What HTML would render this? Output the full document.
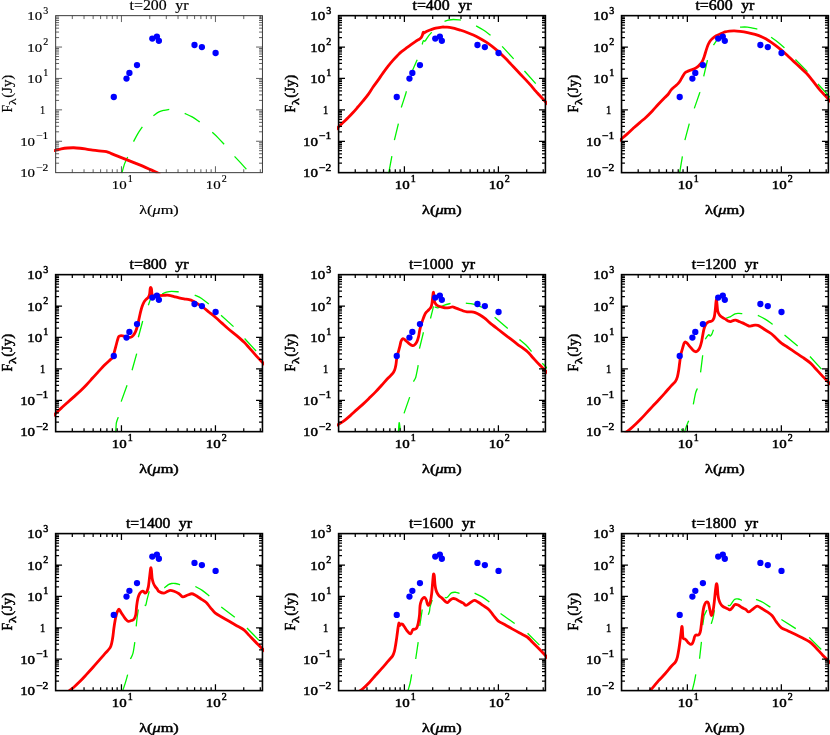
<!DOCTYPE html><html><head><meta charset="utf-8"><title>SED</title><style>html,body{margin:0;padding:0;background:#fff;}svg{display:block;will-change:transform}text{font-family:"Liberation Serif",serif}</style></head><body>
<svg width="830" height="735" viewBox="0 0 830 735">
<rect width="830" height="735" fill="#fff"/>
<clipPath id="c0"><rect x="54.05" y="15.35" width="210" height="157.8"/></clipPath><path d="M121.79 173.43C122.23 171.9 123.6 166.53 124.54 163.9C125.48 161.28 127.17 158.11 127.67 157.01M133.56 141.6C134.23 140.36 136.3 136.18 137.7 133.83C139.1 131.49 141.59 128.04 142.33 126.94M153.36 115.66C154.26 115.06 157.3 112.77 159 111.9C160.7 111.04 162.37 110.68 164.01 110.27C165.66 109.87 168.43 109.54 169.27 109.4M184.69 113.41C185.89 113.97 189.8 115.55 192.2 116.92C194.61 118.28 198.52 121.13 199.72 121.93M212.25 132.33C213.16 133.17 215.99 135.69 217.89 137.59C219.8 139.49 223.15 143.17 224.16 144.23M234.56 156.39C235.5 157.39 238.56 160.59 240.45 162.65C242.33 164.72 245.39 168.23 246.33 169.29" fill="none" stroke="#00f400" stroke-width="1.3" clip-path="url(#c0)"/><path d="M52.49 150.87C52.89 150.79 53.6 150.69 55 150.37C56.4 150.05 59.26 149.25 61.27 148.87C63.27 148.49 65.53 148.17 67.53 147.99C69.53 147.81 71.79 147.7 73.8 147.74C75.8 147.78 78.06 148.02 80.06 148.24C82.07 148.46 84.32 148.82 86.33 149.12C88.33 149.42 90.59 149.84 92.59 150.12C94.6 150.4 96.65 150.63 98.86 150.87C101.06 151.11 104.37 151.18 106.37 151.62C108.38 152.07 109.58 152.91 111.39 153.63C113.19 154.35 115.65 155.33 117.65 156.13C119.66 156.94 121.91 157.84 123.92 158.64C125.92 159.44 128.18 160.35 130.18 161.15C132.19 161.95 134.44 162.85 136.45 163.65C138.45 164.45 140.71 165.32 142.71 166.16C144.72 167 146.97 168.01 148.98 168.92C150.98 169.82 153.44 170.96 155.24 171.8C157.05 172.64 159.45 173.8 160.25 174.18" fill="none" stroke="#ff0000" stroke-width="2.8" stroke-linejoin="round" clip-path="url(#c0)"/><circle cx="113.8" cy="97" r="3.15" fill="#0000ff"/><circle cx="126.5" cy="78.6" r="3.15" fill="#0000ff"/><circle cx="129.4" cy="72.9" r="3.15" fill="#0000ff"/><circle cx="137" cy="65.1" r="3.15" fill="#0000ff"/><circle cx="152.3" cy="38.6" r="3.15" fill="#0000ff"/><circle cx="156.9" cy="36.6" r="3.15" fill="#0000ff"/><circle cx="158.9" cy="40.8" r="3.15" fill="#0000ff"/><circle cx="194.5" cy="45" r="3.15" fill="#0000ff"/><circle cx="201.9" cy="47.1" r="3.15" fill="#0000ff"/><circle cx="215.6" cy="53" r="3.15" fill="#0000ff"/><path d="M72.3 172.65v-3.4M72.3 15.65v3.4M84.04 172.65v-3.4M84.04 15.65v3.4M93.15 172.65v-3.4M93.15 15.65v3.4M100.6 172.65v-3.4M100.6 15.65v3.4M106.89 172.65v-3.4M106.89 15.65v3.4M112.34 172.65v-3.4M112.34 15.65v3.4M117.15 172.65v-3.4M117.15 15.65v3.4M121.45 172.65v-6.4M121.45 15.65v6.4M149.75 172.65v-3.4M149.75 15.65v3.4M166.3 172.65v-3.4M166.3 15.65v3.4M178.04 172.65v-3.4M178.04 15.65v3.4M187.15 172.65v-3.4M187.15 15.65v3.4M194.6 172.65v-3.4M194.6 15.65v3.4M200.89 172.65v-3.4M200.89 15.65v3.4M206.34 172.65v-3.4M206.34 15.65v3.4M211.15 172.65v-3.4M211.15 15.65v3.4M215.45 172.65v-6.4M215.45 15.65v6.4M243.75 172.65v-3.4M243.75 15.65v3.4M260.3 172.65v-3.4M260.3 15.65v3.4M55.65 163.2h3.4M262.45 163.2h-3.4M55.65 157.67h3.4M262.45 157.67h-3.4M55.65 153.75h3.4M262.45 153.75h-3.4M55.65 150.7h3.4M262.45 150.7h-3.4M55.65 148.22h3.4M262.45 148.22h-3.4M55.65 146.11h3.4M262.45 146.11h-3.4M55.65 144.29h3.4M262.45 144.29h-3.4M55.65 142.69h3.4M262.45 142.69h-3.4M55.65 141.25h6.4M262.45 141.25h-6.4M55.65 131.8h3.4M262.45 131.8h-3.4M55.65 126.27h3.4M262.45 126.27h-3.4M55.65 122.35h3.4M262.45 122.35h-3.4M55.65 119.3h3.4M262.45 119.3h-3.4M55.65 116.82h3.4M262.45 116.82h-3.4M55.65 114.71h3.4M262.45 114.71h-3.4M55.65 112.89h3.4M262.45 112.89h-3.4M55.65 111.29h3.4M262.45 111.29h-3.4M55.65 109.85h6.4M262.45 109.85h-6.4M55.65 100.4h3.4M262.45 100.4h-3.4M55.65 94.87h3.4M262.45 94.87h-3.4M55.65 90.95h3.4M262.45 90.95h-3.4M55.65 87.9h3.4M262.45 87.9h-3.4M55.65 85.42h3.4M262.45 85.42h-3.4M55.65 83.31h3.4M262.45 83.31h-3.4M55.65 81.49h3.4M262.45 81.49h-3.4M55.65 79.89h3.4M262.45 79.89h-3.4M55.65 78.45h6.4M262.45 78.45h-6.4M55.65 69h3.4M262.45 69h-3.4M55.65 63.47h3.4M262.45 63.47h-3.4M55.65 59.55h3.4M262.45 59.55h-3.4M55.65 56.5h3.4M262.45 56.5h-3.4M55.65 54.02h3.4M262.45 54.02h-3.4M55.65 51.91h3.4M262.45 51.91h-3.4M55.65 50.09h3.4M262.45 50.09h-3.4M55.65 48.49h3.4M262.45 48.49h-3.4M55.65 47.05h6.4M262.45 47.05h-6.4M55.65 37.6h3.4M262.45 37.6h-3.4M55.65 32.07h3.4M262.45 32.07h-3.4M55.65 28.15h3.4M262.45 28.15h-3.4M55.65 25.1h3.4M262.45 25.1h-3.4M55.65 22.62h3.4M262.45 22.62h-3.4M55.65 20.51h3.4M262.45 20.51h-3.4M55.65 18.69h3.4M262.45 18.69h-3.4M55.65 17.09h3.4M262.45 17.09h-3.4" stroke="#3a3a3a" stroke-width="0.8" fill="none"/><rect x="55.65" y="15.65" width="206.8" height="157" fill="none" stroke="#3a3a3a" stroke-width="1.0"/><text x="20.15" y="177.15" font-size="13.4" textLength="14.9" lengthAdjust="spacingAndGlyphs" fill="#000" stroke="#000" stroke-width="0.18">10</text><text x="36.15" y="170.65" font-size="9.8" textLength="12.2" lengthAdjust="spacingAndGlyphs" fill="#000" stroke="#000" stroke-width="0.18">−2</text><text x="20.15" y="145.75" font-size="13.4" textLength="14.9" lengthAdjust="spacingAndGlyphs" fill="#000" stroke="#000" stroke-width="0.18">10</text><text x="36.15" y="139.25" font-size="9.8" textLength="12.2" lengthAdjust="spacingAndGlyphs" fill="#000" stroke="#000" stroke-width="0.18">−1</text><text x="40.05" y="114.35" font-size="13.4" textLength="5.2" lengthAdjust="spacingAndGlyphs" fill="#000" stroke="#000" stroke-width="0.18">1</text><text x="27.35" y="82.95" font-size="13.4" textLength="14.9" lengthAdjust="spacingAndGlyphs" fill="#000" stroke="#000" stroke-width="0.18">10</text><text x="43.35" y="76.45" font-size="9.8" textLength="5" lengthAdjust="spacingAndGlyphs" fill="#000" stroke="#000" stroke-width="0.18">1</text><text x="27.35" y="51.55" font-size="13.4" textLength="14.9" lengthAdjust="spacingAndGlyphs" fill="#000" stroke="#000" stroke-width="0.18">10</text><text x="43.35" y="45.05" font-size="9.8" textLength="5" lengthAdjust="spacingAndGlyphs" fill="#000" stroke="#000" stroke-width="0.18">2</text><text x="27.35" y="20.15" font-size="13.4" textLength="14.9" lengthAdjust="spacingAndGlyphs" fill="#000" stroke="#000" stroke-width="0.18">10</text><text x="43.35" y="13.65" font-size="9.8" textLength="5" lengthAdjust="spacingAndGlyphs" fill="#000" stroke="#000" stroke-width="0.18">3</text><text x="111.85" y="188.65" font-size="13.4" textLength="14.9" lengthAdjust="spacingAndGlyphs" fill="#000" stroke="#000" stroke-width="0.18">10</text><text x="127.85" y="182.15" font-size="9.8" textLength="5" lengthAdjust="spacingAndGlyphs" fill="#000" stroke="#000" stroke-width="0.18">1</text><text x="205.85" y="188.65" font-size="13.4" textLength="14.9" lengthAdjust="spacingAndGlyphs" fill="#000" stroke="#000" stroke-width="0.18">10</text><text x="221.85" y="182.15" font-size="9.8" textLength="5" lengthAdjust="spacingAndGlyphs" fill="#000" stroke="#000" stroke-width="0.18">2</text><text x="129.55" y="9.75" font-size="14" textLength="37.2" lengthAdjust="spacingAndGlyphs" fill="#000" stroke="#000" stroke-width="0.18">t=200</text><text x="175.25" y="9.75" font-size="14" textLength="13.3" lengthAdjust="spacingAndGlyphs" fill="#000" stroke="#000" stroke-width="0.18">yr</text><text x="139.15" y="213.55" font-size="13.5" textLength="39.6" lengthAdjust="spacingAndGlyphs" fill="#000" stroke="#000" stroke-width="0.18">λ(<tspan font-style="italic">μ</tspan>m)</text><g transform="translate(11.85 93.75) rotate(-90)"><text x="-18.8" y="0" font-size="14.2" textLength="7.6" lengthAdjust="spacingAndGlyphs" fill="#000" stroke="#000" stroke-width="0.18">F</text><text x="-11.3" y="4.6" font-size="10.5" textLength="6.7" lengthAdjust="spacingAndGlyphs" fill="#000" stroke="#000" stroke-width="0.18">λ</text><text x="-4" y="0" font-size="14.2" textLength="23" lengthAdjust="spacingAndGlyphs" fill="#000" stroke="#000" stroke-width="0.18">(Jy)</text></g>
<clipPath id="c1"><rect x="337" y="15.35" width="210" height="157.8"/></clipPath><path d="M388.62 173.69 L391.88 156.02M394.39 140.11 L398.4 123.7M401.28 107.53C401.98 105.37 404.84 96.61 405.66 94C406.48 91.39 406.29 91.68 406.41 91.24M411.68 72.64C411.88 72.14 412.05 71.55 412.93 69.51C413.81 67.46 416.51 61.4 417.19 59.86M422.2 44.45C422.4 43.84 422.99 41.23 423.46 40.69C423.92 40.15 424.32 41.76 425.08 41.06C425.85 40.36 427.15 37.7 428.22 36.3C429.28 34.9 431.16 32.93 431.73 32.29M444.51 21.27C445.19 21.06 447.36 20.29 448.77 20.01C450.17 19.73 451.35 19.51 453.28 19.51C455.2 19.51 459.59 19.93 460.8 20.01M476.08 25.9C477.24 26.56 481.02 28.53 483.35 30.04C485.67 31.54 489.45 34.46 490.62 35.3M502.14 46.33 L513.67 58.86M524.45 71.01 L535.73 83.67" fill="none" stroke="#00f400" stroke-width="1.3" clip-path="url(#c1)"/><path d="M336.12 129.46C336.42 129.16 336.9 128.68 338 127.58C339.1 126.48 341.41 124.13 343.01 122.57C344.62 121 346.42 119.41 348.02 117.81C349.63 116.2 351.43 114.31 353.04 112.54C354.64 110.78 356.44 108.65 358.05 106.78C359.65 104.92 361.46 102.84 363.06 100.89C364.66 98.95 366.47 96.84 368.07 94.63C369.68 92.41 371.48 89.36 373.08 87.05C374.69 84.73 376.49 82.42 378.1 80.16C379.7 77.89 381.5 75.13 383.11 72.89C384.71 70.64 386.52 68.17 388.12 66.12C389.72 64.08 391.53 61.91 393.13 60.11C394.74 58.3 396.94 56.09 398.14 54.85C399.35 53.6 399.45 53.34 400.65 52.34C401.85 51.34 404.06 49.78 405.66 48.58C407.27 47.38 409.07 45.98 410.67 44.82C412.28 43.66 414.28 42.24 415.69 41.31C417.09 40.39 418.54 39.7 419.45 39.06C420.35 38.42 420.84 37.95 421.33 37.3C421.81 36.66 422.15 35.85 422.45 35.05C422.75 34.25 422.96 32.59 423.2 32.29C423.45 31.99 423.72 33.13 423.96 33.17C424.2 33.21 424.23 32.84 424.71 32.54C425.19 32.24 426 31.73 426.96 31.29C427.93 30.85 429.32 30.29 430.72 29.79C432.13 29.28 433.93 28.6 435.73 28.16C437.54 27.72 440.4 27.19 442 27.03C443.6 26.87 444.56 27.11 445.76 27.15C446.96 27.19 448.11 27.1 449.52 27.28C450.92 27.46 452.73 27.8 454.53 28.28C456.33 28.76 458.79 29.61 460.8 30.29C462.8 30.97 465.06 31.78 467.06 32.54C469.07 33.3 471.32 34.15 473.33 35.05C475.33 35.95 477.59 37.08 479.59 38.18C481.6 39.28 483.85 40.64 485.86 41.94C487.86 43.24 490.12 44.78 492.12 46.33C494.13 47.87 496.38 49.78 498.39 51.59C500.39 53.39 502.65 55.6 504.65 57.6C506.66 59.61 508.91 62.01 510.92 64.12C512.92 66.22 515.18 68.63 517.18 70.76C519.19 72.88 521.44 75.25 523.45 77.4C525.45 79.55 527.71 81.92 529.71 84.17C531.72 86.41 534.57 89.83 535.98 91.43C537.38 93.04 536.88 92.47 538.48 94.19C540.09 95.91 544.4 100.45 546 102.21C547.6 103.97 548.11 104.74 548.51 105.22" fill="none" stroke="#ff0000" stroke-width="2.8" stroke-linejoin="round" clip-path="url(#c1)"/><circle cx="396.75" cy="97" r="3.15" fill="#0000ff"/><circle cx="409.45" cy="78.6" r="3.15" fill="#0000ff"/><circle cx="412.35" cy="72.9" r="3.15" fill="#0000ff"/><circle cx="419.95" cy="65.1" r="3.15" fill="#0000ff"/><circle cx="435.25" cy="38.6" r="3.15" fill="#0000ff"/><circle cx="439.85" cy="36.6" r="3.15" fill="#0000ff"/><circle cx="441.85" cy="40.8" r="3.15" fill="#0000ff"/><circle cx="477.45" cy="45" r="3.15" fill="#0000ff"/><circle cx="484.85" cy="47.1" r="3.15" fill="#0000ff"/><circle cx="498.55" cy="53" r="3.15" fill="#0000ff"/><path d="M355.25 172.65v-3.4M355.25 15.65v3.4M366.99 172.65v-3.4M366.99 15.65v3.4M376.1 172.65v-3.4M376.1 15.65v3.4M383.55 172.65v-3.4M383.55 15.65v3.4M389.84 172.65v-3.4M389.84 15.65v3.4M395.29 172.65v-3.4M395.29 15.65v3.4M400.1 172.65v-3.4M400.1 15.65v3.4M404.4 172.65v-6.4M404.4 15.65v6.4M432.7 172.65v-3.4M432.7 15.65v3.4M449.25 172.65v-3.4M449.25 15.65v3.4M460.99 172.65v-3.4M460.99 15.65v3.4M470.1 172.65v-3.4M470.1 15.65v3.4M477.55 172.65v-3.4M477.55 15.65v3.4M483.84 172.65v-3.4M483.84 15.65v3.4M489.29 172.65v-3.4M489.29 15.65v3.4M494.1 172.65v-3.4M494.1 15.65v3.4M498.4 172.65v-6.4M498.4 15.65v6.4M526.7 172.65v-3.4M526.7 15.65v3.4M543.25 172.65v-3.4M543.25 15.65v3.4M338.6 163.2h3.4M545.4 163.2h-3.4M338.6 157.67h3.4M545.4 157.67h-3.4M338.6 153.75h3.4M545.4 153.75h-3.4M338.6 150.7h3.4M545.4 150.7h-3.4M338.6 148.22h3.4M545.4 148.22h-3.4M338.6 146.11h3.4M545.4 146.11h-3.4M338.6 144.29h3.4M545.4 144.29h-3.4M338.6 142.69h3.4M545.4 142.69h-3.4M338.6 141.25h6.4M545.4 141.25h-6.4M338.6 131.8h3.4M545.4 131.8h-3.4M338.6 126.27h3.4M545.4 126.27h-3.4M338.6 122.35h3.4M545.4 122.35h-3.4M338.6 119.3h3.4M545.4 119.3h-3.4M338.6 116.82h3.4M545.4 116.82h-3.4M338.6 114.71h3.4M545.4 114.71h-3.4M338.6 112.89h3.4M545.4 112.89h-3.4M338.6 111.29h3.4M545.4 111.29h-3.4M338.6 109.85h6.4M545.4 109.85h-6.4M338.6 100.4h3.4M545.4 100.4h-3.4M338.6 94.87h3.4M545.4 94.87h-3.4M338.6 90.95h3.4M545.4 90.95h-3.4M338.6 87.9h3.4M545.4 87.9h-3.4M338.6 85.42h3.4M545.4 85.42h-3.4M338.6 83.31h3.4M545.4 83.31h-3.4M338.6 81.49h3.4M545.4 81.49h-3.4M338.6 79.89h3.4M545.4 79.89h-3.4M338.6 78.45h6.4M545.4 78.45h-6.4M338.6 69h3.4M545.4 69h-3.4M338.6 63.47h3.4M545.4 63.47h-3.4M338.6 59.55h3.4M545.4 59.55h-3.4M338.6 56.5h3.4M545.4 56.5h-3.4M338.6 54.02h3.4M545.4 54.02h-3.4M338.6 51.91h3.4M545.4 51.91h-3.4M338.6 50.09h3.4M545.4 50.09h-3.4M338.6 48.49h3.4M545.4 48.49h-3.4M338.6 47.05h6.4M545.4 47.05h-6.4M338.6 37.6h3.4M545.4 37.6h-3.4M338.6 32.07h3.4M545.4 32.07h-3.4M338.6 28.15h3.4M545.4 28.15h-3.4M338.6 25.1h3.4M545.4 25.1h-3.4M338.6 22.62h3.4M545.4 22.62h-3.4M338.6 20.51h3.4M545.4 20.51h-3.4M338.6 18.69h3.4M545.4 18.69h-3.4M338.6 17.09h3.4M545.4 17.09h-3.4" stroke="#000" stroke-width="1.25" fill="none"/><rect x="338.6" y="15.65" width="206.8" height="157" fill="none" stroke="#000" stroke-width="1.6"/><text x="303.1" y="177.15" font-size="13.4" textLength="14.9" lengthAdjust="spacingAndGlyphs" fill="#000" stroke="#000" stroke-width="0.5">10</text><text x="319.1" y="170.65" font-size="9.8" textLength="12.2" lengthAdjust="spacingAndGlyphs" fill="#000" stroke="#000" stroke-width="0.5">−2</text><text x="303.1" y="145.75" font-size="13.4" textLength="14.9" lengthAdjust="spacingAndGlyphs" fill="#000" stroke="#000" stroke-width="0.5">10</text><text x="319.1" y="139.25" font-size="9.8" textLength="12.2" lengthAdjust="spacingAndGlyphs" fill="#000" stroke="#000" stroke-width="0.5">−1</text><text x="323" y="114.35" font-size="13.4" textLength="5.2" lengthAdjust="spacingAndGlyphs" fill="#000" stroke="#000" stroke-width="0.5">1</text><text x="310.3" y="82.95" font-size="13.4" textLength="14.9" lengthAdjust="spacingAndGlyphs" fill="#000" stroke="#000" stroke-width="0.5">10</text><text x="326.3" y="76.45" font-size="9.8" textLength="5" lengthAdjust="spacingAndGlyphs" fill="#000" stroke="#000" stroke-width="0.5">1</text><text x="310.3" y="51.55" font-size="13.4" textLength="14.9" lengthAdjust="spacingAndGlyphs" fill="#000" stroke="#000" stroke-width="0.5">10</text><text x="326.3" y="45.05" font-size="9.8" textLength="5" lengthAdjust="spacingAndGlyphs" fill="#000" stroke="#000" stroke-width="0.5">2</text><text x="310.3" y="20.15" font-size="13.4" textLength="14.9" lengthAdjust="spacingAndGlyphs" fill="#000" stroke="#000" stroke-width="0.5">10</text><text x="326.3" y="13.65" font-size="9.8" textLength="5" lengthAdjust="spacingAndGlyphs" fill="#000" stroke="#000" stroke-width="0.5">3</text><text x="394.8" y="188.65" font-size="13.4" textLength="14.9" lengthAdjust="spacingAndGlyphs" fill="#000" stroke="#000" stroke-width="0.5">10</text><text x="410.8" y="182.15" font-size="9.8" textLength="5" lengthAdjust="spacingAndGlyphs" fill="#000" stroke="#000" stroke-width="0.5">1</text><text x="488.8" y="188.65" font-size="13.4" textLength="14.9" lengthAdjust="spacingAndGlyphs" fill="#000" stroke="#000" stroke-width="0.5">10</text><text x="504.8" y="182.15" font-size="9.8" textLength="5" lengthAdjust="spacingAndGlyphs" fill="#000" stroke="#000" stroke-width="0.5">2</text><text x="412.5" y="9.75" font-size="14" textLength="37.2" lengthAdjust="spacingAndGlyphs" fill="#000" stroke="#000" stroke-width="0.5">t=400</text><text x="458.2" y="9.75" font-size="14" textLength="13.3" lengthAdjust="spacingAndGlyphs" fill="#000" stroke="#000" stroke-width="0.5">yr</text><text x="422.1" y="213.55" font-size="13.5" textLength="39.6" lengthAdjust="spacingAndGlyphs" fill="#000" stroke="#000" stroke-width="0.5">λ(<tspan font-style="italic">μ</tspan>m)</text><g transform="translate(294.8 93.75) rotate(-90)"><text x="-18.8" y="0" font-size="14.2" textLength="7.6" lengthAdjust="spacingAndGlyphs" fill="#000" stroke="#000" stroke-width="0.5">F</text><text x="-11.3" y="4.6" font-size="10.5" textLength="6.7" lengthAdjust="spacingAndGlyphs" fill="#000" stroke="#000" stroke-width="0.5">λ</text><text x="-4" y="0" font-size="14.2" textLength="23" lengthAdjust="spacingAndGlyphs" fill="#000" stroke="#000" stroke-width="0.5">(Jy)</text></g>
<clipPath id="c2"><rect x="619.95" y="15.35" width="210" height="157.8"/></clipPath><path d="M679.52 173.69 L682.4 156.27M684.9 140.11 L689.29 123.7M694.3 108.41C695.1 106.1 698.41 96.61 699.31 94C700.22 91.39 699.84 92.42 699.94 92.12M703.7 76.4 L707.46 60.11M713.47 45.07 L716.86 40.06M740.04 27.15C741.24 27.15 744.79 26.83 747.55 27.15C750.32 27.47 755.76 28.84 757.33 29.16M771.11 37.3C772.15 38.05 775.48 40.26 777.63 41.94C779.77 43.62 783.42 46.89 784.52 47.83M795.42 59.48 L807.45 71.64M817.97 84.06 L830.25 97.59" fill="none" stroke="#00f400" stroke-width="1.3" clip-path="url(#c2)"/><path d="M619.12 140.99C619.42 140.73 619.7 140.5 621 139.36C622.3 138.22 625.26 135.65 627.27 133.85C629.27 132.04 631.53 129.89 633.53 128.08C635.53 126.28 637.79 124.31 639.8 122.57C641.8 120.82 644.06 119.05 646.06 117.18C648.07 115.32 650.32 113.02 652.33 110.92C654.33 108.81 656.59 106.17 658.59 104.02C660.6 101.88 663.29 99.11 664.86 97.51C666.42 95.9 667.36 95.21 668.36 94C669.37 92.79 670.08 91.14 671.12 89.93C672.16 88.72 673.78 87.42 674.88 86.42C675.98 85.42 677.11 84.67 678.01 83.67C678.91 82.66 679.72 81.42 680.52 80.16C681.32 78.89 682.32 76.93 683.02 75.77C683.73 74.61 684.3 73.55 684.9 72.89C685.51 72.23 685.98 72.04 686.78 71.64C687.59 71.24 688.81 70.78 689.92 70.38C691.02 69.98 692.57 69.61 693.67 69.13C694.78 68.65 695.8 68.12 696.81 67.38C697.81 66.63 699.04 65.5 699.94 64.49C700.84 63.49 701.74 62.41 702.45 61.11C703.15 59.81 703.72 58.11 704.33 56.35C704.93 54.59 705.6 51.93 706.2 50.08C706.81 48.24 707.48 46.23 708.08 44.82C708.69 43.42 709.26 42.32 709.96 41.31C710.67 40.31 711.47 39.46 712.47 38.56C713.47 37.65 714.83 36.48 716.23 35.67C717.63 34.87 719.84 34.15 721.24 33.54C722.64 32.94 723.7 32.32 725 31.92C726.3 31.51 727.88 31.22 729.39 31.04C730.89 30.86 732.69 30.75 734.4 30.79C736.1 30.83 737.93 31.01 740.04 31.29C742.14 31.57 745.15 32.04 747.55 32.54C749.96 33.04 752.67 33.66 755.07 34.42C757.48 35.18 760.39 36.3 762.59 37.3C764.8 38.31 766.85 39.44 768.86 40.69C770.86 41.93 773.12 43.57 775.12 45.07C777.13 46.58 779.38 48.38 781.39 50.08C783.39 51.79 785.65 53.88 787.65 55.72C789.66 57.57 791.91 59.75 793.92 61.61C795.92 63.48 798.18 65.51 800.18 67.38C802.19 69.24 804.84 71.64 806.45 73.27C808.05 74.89 808.2 75.05 810.2 77.54C812.21 80.03 815.97 85.25 818.98 88.82C821.98 92.39 827.1 97.74 829 99.85C830.9 101.95 830.58 101.64 830.88 101.98" fill="none" stroke="#ff0000" stroke-width="2.8" stroke-linejoin="round" clip-path="url(#c2)"/><circle cx="679.7" cy="97" r="3.15" fill="#0000ff"/><circle cx="692.4" cy="78.6" r="3.15" fill="#0000ff"/><circle cx="695.3" cy="72.9" r="3.15" fill="#0000ff"/><circle cx="702.9" cy="65.1" r="3.15" fill="#0000ff"/><circle cx="718.2" cy="38.6" r="3.15" fill="#0000ff"/><circle cx="722.8" cy="36.6" r="3.15" fill="#0000ff"/><circle cx="724.8" cy="40.8" r="3.15" fill="#0000ff"/><circle cx="760.4" cy="45" r="3.15" fill="#0000ff"/><circle cx="767.8" cy="47.1" r="3.15" fill="#0000ff"/><circle cx="781.5" cy="53" r="3.15" fill="#0000ff"/><path d="M638.2 172.65v-3.4M638.2 15.65v3.4M649.94 172.65v-3.4M649.94 15.65v3.4M659.05 172.65v-3.4M659.05 15.65v3.4M666.5 172.65v-3.4M666.5 15.65v3.4M672.79 172.65v-3.4M672.79 15.65v3.4M678.24 172.65v-3.4M678.24 15.65v3.4M683.05 172.65v-3.4M683.05 15.65v3.4M687.35 172.65v-6.4M687.35 15.65v6.4M715.65 172.65v-3.4M715.65 15.65v3.4M732.2 172.65v-3.4M732.2 15.65v3.4M743.94 172.65v-3.4M743.94 15.65v3.4M753.05 172.65v-3.4M753.05 15.65v3.4M760.5 172.65v-3.4M760.5 15.65v3.4M766.79 172.65v-3.4M766.79 15.65v3.4M772.24 172.65v-3.4M772.24 15.65v3.4M777.05 172.65v-3.4M777.05 15.65v3.4M781.35 172.65v-6.4M781.35 15.65v6.4M809.65 172.65v-3.4M809.65 15.65v3.4M826.2 172.65v-3.4M826.2 15.65v3.4M621.55 163.2h3.4M828.35 163.2h-3.4M621.55 157.67h3.4M828.35 157.67h-3.4M621.55 153.75h3.4M828.35 153.75h-3.4M621.55 150.7h3.4M828.35 150.7h-3.4M621.55 148.22h3.4M828.35 148.22h-3.4M621.55 146.11h3.4M828.35 146.11h-3.4M621.55 144.29h3.4M828.35 144.29h-3.4M621.55 142.69h3.4M828.35 142.69h-3.4M621.55 141.25h6.4M828.35 141.25h-6.4M621.55 131.8h3.4M828.35 131.8h-3.4M621.55 126.27h3.4M828.35 126.27h-3.4M621.55 122.35h3.4M828.35 122.35h-3.4M621.55 119.3h3.4M828.35 119.3h-3.4M621.55 116.82h3.4M828.35 116.82h-3.4M621.55 114.71h3.4M828.35 114.71h-3.4M621.55 112.89h3.4M828.35 112.89h-3.4M621.55 111.29h3.4M828.35 111.29h-3.4M621.55 109.85h6.4M828.35 109.85h-6.4M621.55 100.4h3.4M828.35 100.4h-3.4M621.55 94.87h3.4M828.35 94.87h-3.4M621.55 90.95h3.4M828.35 90.95h-3.4M621.55 87.9h3.4M828.35 87.9h-3.4M621.55 85.42h3.4M828.35 85.42h-3.4M621.55 83.31h3.4M828.35 83.31h-3.4M621.55 81.49h3.4M828.35 81.49h-3.4M621.55 79.89h3.4M828.35 79.89h-3.4M621.55 78.45h6.4M828.35 78.45h-6.4M621.55 69h3.4M828.35 69h-3.4M621.55 63.47h3.4M828.35 63.47h-3.4M621.55 59.55h3.4M828.35 59.55h-3.4M621.55 56.5h3.4M828.35 56.5h-3.4M621.55 54.02h3.4M828.35 54.02h-3.4M621.55 51.91h3.4M828.35 51.91h-3.4M621.55 50.09h3.4M828.35 50.09h-3.4M621.55 48.49h3.4M828.35 48.49h-3.4M621.55 47.05h6.4M828.35 47.05h-6.4M621.55 37.6h3.4M828.35 37.6h-3.4M621.55 32.07h3.4M828.35 32.07h-3.4M621.55 28.15h3.4M828.35 28.15h-3.4M621.55 25.1h3.4M828.35 25.1h-3.4M621.55 22.62h3.4M828.35 22.62h-3.4M621.55 20.51h3.4M828.35 20.51h-3.4M621.55 18.69h3.4M828.35 18.69h-3.4M621.55 17.09h3.4M828.35 17.09h-3.4" stroke="#000" stroke-width="1.25" fill="none"/><rect x="621.55" y="15.65" width="206.8" height="157" fill="none" stroke="#000" stroke-width="1.6"/><text x="586.05" y="177.15" font-size="13.4" textLength="14.9" lengthAdjust="spacingAndGlyphs" fill="#000" stroke="#000" stroke-width="0.5">10</text><text x="602.05" y="170.65" font-size="9.8" textLength="12.2" lengthAdjust="spacingAndGlyphs" fill="#000" stroke="#000" stroke-width="0.5">−2</text><text x="586.05" y="145.75" font-size="13.4" textLength="14.9" lengthAdjust="spacingAndGlyphs" fill="#000" stroke="#000" stroke-width="0.5">10</text><text x="602.05" y="139.25" font-size="9.8" textLength="12.2" lengthAdjust="spacingAndGlyphs" fill="#000" stroke="#000" stroke-width="0.5">−1</text><text x="605.95" y="114.35" font-size="13.4" textLength="5.2" lengthAdjust="spacingAndGlyphs" fill="#000" stroke="#000" stroke-width="0.5">1</text><text x="593.25" y="82.95" font-size="13.4" textLength="14.9" lengthAdjust="spacingAndGlyphs" fill="#000" stroke="#000" stroke-width="0.5">10</text><text x="609.25" y="76.45" font-size="9.8" textLength="5" lengthAdjust="spacingAndGlyphs" fill="#000" stroke="#000" stroke-width="0.5">1</text><text x="593.25" y="51.55" font-size="13.4" textLength="14.9" lengthAdjust="spacingAndGlyphs" fill="#000" stroke="#000" stroke-width="0.5">10</text><text x="609.25" y="45.05" font-size="9.8" textLength="5" lengthAdjust="spacingAndGlyphs" fill="#000" stroke="#000" stroke-width="0.5">2</text><text x="593.25" y="20.15" font-size="13.4" textLength="14.9" lengthAdjust="spacingAndGlyphs" fill="#000" stroke="#000" stroke-width="0.5">10</text><text x="609.25" y="13.65" font-size="9.8" textLength="5" lengthAdjust="spacingAndGlyphs" fill="#000" stroke="#000" stroke-width="0.5">3</text><text x="677.75" y="188.65" font-size="13.4" textLength="14.9" lengthAdjust="spacingAndGlyphs" fill="#000" stroke="#000" stroke-width="0.5">10</text><text x="693.75" y="182.15" font-size="9.8" textLength="5" lengthAdjust="spacingAndGlyphs" fill="#000" stroke="#000" stroke-width="0.5">1</text><text x="771.75" y="188.65" font-size="13.4" textLength="14.9" lengthAdjust="spacingAndGlyphs" fill="#000" stroke="#000" stroke-width="0.5">10</text><text x="787.75" y="182.15" font-size="9.8" textLength="5" lengthAdjust="spacingAndGlyphs" fill="#000" stroke="#000" stroke-width="0.5">2</text><text x="695.45" y="9.75" font-size="14" textLength="37.2" lengthAdjust="spacingAndGlyphs" fill="#000" stroke="#000" stroke-width="0.5">t=600</text><text x="741.15" y="9.75" font-size="14" textLength="13.3" lengthAdjust="spacingAndGlyphs" fill="#000" stroke="#000" stroke-width="0.5">yr</text><text x="705.05" y="213.55" font-size="13.5" textLength="39.6" lengthAdjust="spacingAndGlyphs" fill="#000" stroke="#000" stroke-width="0.5">λ(<tspan font-style="italic">μ</tspan>m)</text><g transform="translate(577.75 93.75) rotate(-90)"><text x="-18.8" y="0" font-size="14.2" textLength="7.6" lengthAdjust="spacingAndGlyphs" fill="#000" stroke="#000" stroke-width="0.5">F</text><text x="-11.3" y="4.6" font-size="10.5" textLength="6.7" lengthAdjust="spacingAndGlyphs" fill="#000" stroke="#000" stroke-width="0.5">λ</text><text x="-4" y="0" font-size="14.2" textLength="23" lengthAdjust="spacingAndGlyphs" fill="#000" stroke="#000" stroke-width="0.5">(Jy)</text></g>
<clipPath id="c3"><rect x="54.05" y="274.35" width="210" height="157.8"/></clipPath><path d="M115.65 432.69C115.73 431.47 116.01 426.71 116.15 425.05C116.29 423.38 116.18 423.55 116.52 422.29C116.86 421.03 118 417.98 118.28 417.15M121.16 401.62 L127.05 385.33M132.06 370.29 L136.7 353.63M138.33 337.28 L142.71 320.99M148.35 305.33 L150.23 299.69M162.13 294.05C162.83 293.75 165.01 292.61 166.52 292.17C168.02 291.73 169.57 291.33 171.53 291.29C173.49 291.25 177.63 291.82 178.8 291.92M194.71 295.05C195.81 295.59 199.34 296.99 201.6 298.43C203.87 299.88 207.71 303.17 208.87 304.07M221.02 315.35 L233.55 326.63M244.58 338.54 L256.11 350.95" fill="none" stroke="#00f400" stroke-width="1.3" clip-path="url(#c3)"/><path d="M53.12 415.9C53.42 415.62 53.7 415.39 55 414.15C56.3 412.9 59.26 410 61.27 408.13C63.27 406.27 65.53 404.3 67.53 402.49C69.53 400.69 71.79 398.66 73.8 396.86C75.8 395.05 78.06 393.12 80.06 391.22C82.07 389.31 84.32 387.06 86.33 384.95C88.33 382.85 90.59 380.27 92.59 378.06C94.6 375.85 96.85 373.33 98.86 371.17C100.86 369 103.32 366.33 105.12 364.53C106.92 362.72 108.89 361.03 110.13 359.89C111.38 358.75 112.29 358.39 112.89 357.39C113.49 356.38 113.43 355.34 113.89 353.63C114.35 351.91 115.21 348.79 115.77 346.67C116.33 344.56 116.94 342.01 117.4 340.41C117.86 338.81 118.21 337.39 118.65 336.65C119.09 335.91 119.31 335.87 120.16 335.77C121 335.67 122.71 335.78 123.92 336.02C125.12 336.26 126.57 337.08 127.67 337.28C128.78 337.48 129.91 337.58 130.81 337.28C131.71 336.98 132.57 336.26 133.31 335.4C134.06 334.54 134.84 333.19 135.44 331.89C136.04 330.59 136.55 329.1 137.07 327.25C137.59 325.41 138.2 322.57 138.7 320.36C139.2 318.16 139.7 315.57 140.2 313.47C140.71 311.36 141.27 308.95 141.83 307.2C142.4 305.46 143.07 303.77 143.71 302.57C144.35 301.37 145.1 300.55 145.84 299.69C146.59 298.82 147.75 298.08 148.35 297.18C148.95 296.28 149.3 295.45 149.6 294.05C149.9 292.64 150.03 289.45 150.23 288.41C150.43 287.37 150.65 287.43 150.86 287.53C151.06 287.63 151.28 287.89 151.48 289.04C151.68 290.18 151.71 293.57 152.11 294.67C152.51 295.78 152.89 295.79 153.99 295.93C155.09 296.07 157.4 295.65 159 295.55C160.6 295.45 162.41 295.34 164.01 295.3C165.62 295.26 167.42 295.1 169.02 295.3C170.63 295.5 172.43 296.15 174.04 296.55C175.64 296.96 177.44 297.45 179.05 297.81C180.65 298.17 182.46 298.51 184.06 298.81C185.66 299.11 187.67 299.35 189.07 299.69C190.48 300.03 191.63 300.4 192.83 300.94C194.03 301.48 194.99 302.07 196.59 303.07C198.19 304.07 200.85 305.74 202.86 307.2C204.86 308.67 207.12 310.61 209.12 312.22C211.13 313.82 213.38 315.52 215.39 317.23C217.39 318.93 219.65 321.06 221.65 322.87C223.66 324.67 225.51 326.46 227.92 328.51C230.32 330.55 234.08 333.46 236.69 335.66C239.29 337.87 242.2 340.36 244.2 342.3C246.21 344.25 247.21 345.57 249.22 347.82C251.22 350.06 254.53 353.93 256.73 356.34C258.94 358.74 261.7 361.49 263 362.85C264.3 364.22 264.58 364.54 264.88 364.86" fill="none" stroke="#ff0000" stroke-width="2.8" stroke-linejoin="round" clip-path="url(#c3)"/><circle cx="113.8" cy="356" r="3.15" fill="#0000ff"/><circle cx="126.5" cy="337.6" r="3.15" fill="#0000ff"/><circle cx="129.4" cy="331.9" r="3.15" fill="#0000ff"/><circle cx="137" cy="324.1" r="3.15" fill="#0000ff"/><circle cx="152.3" cy="297.6" r="3.15" fill="#0000ff"/><circle cx="156.9" cy="295.6" r="3.15" fill="#0000ff"/><circle cx="158.9" cy="299.8" r="3.15" fill="#0000ff"/><circle cx="194.5" cy="304" r="3.15" fill="#0000ff"/><circle cx="201.9" cy="306.1" r="3.15" fill="#0000ff"/><circle cx="215.6" cy="312" r="3.15" fill="#0000ff"/><path d="M72.3 431.65v-3.4M72.3 274.65v3.4M84.04 431.65v-3.4M84.04 274.65v3.4M93.15 431.65v-3.4M93.15 274.65v3.4M100.6 431.65v-3.4M100.6 274.65v3.4M106.89 431.65v-3.4M106.89 274.65v3.4M112.34 431.65v-3.4M112.34 274.65v3.4M117.15 431.65v-3.4M117.15 274.65v3.4M121.45 431.65v-6.4M121.45 274.65v6.4M149.75 431.65v-3.4M149.75 274.65v3.4M166.3 431.65v-3.4M166.3 274.65v3.4M178.04 431.65v-3.4M178.04 274.65v3.4M187.15 431.65v-3.4M187.15 274.65v3.4M194.6 431.65v-3.4M194.6 274.65v3.4M200.89 431.65v-3.4M200.89 274.65v3.4M206.34 431.65v-3.4M206.34 274.65v3.4M211.15 431.65v-3.4M211.15 274.65v3.4M215.45 431.65v-6.4M215.45 274.65v6.4M243.75 431.65v-3.4M243.75 274.65v3.4M260.3 431.65v-3.4M260.3 274.65v3.4M55.65 422.2h3.4M262.45 422.2h-3.4M55.65 416.67h3.4M262.45 416.67h-3.4M55.65 412.75h3.4M262.45 412.75h-3.4M55.65 409.7h3.4M262.45 409.7h-3.4M55.65 407.22h3.4M262.45 407.22h-3.4M55.65 405.11h3.4M262.45 405.11h-3.4M55.65 403.29h3.4M262.45 403.29h-3.4M55.65 401.69h3.4M262.45 401.69h-3.4M55.65 400.25h6.4M262.45 400.25h-6.4M55.65 390.8h3.4M262.45 390.8h-3.4M55.65 385.27h3.4M262.45 385.27h-3.4M55.65 381.35h3.4M262.45 381.35h-3.4M55.65 378.3h3.4M262.45 378.3h-3.4M55.65 375.82h3.4M262.45 375.82h-3.4M55.65 373.71h3.4M262.45 373.71h-3.4M55.65 371.89h3.4M262.45 371.89h-3.4M55.65 370.29h3.4M262.45 370.29h-3.4M55.65 368.85h6.4M262.45 368.85h-6.4M55.65 359.4h3.4M262.45 359.4h-3.4M55.65 353.87h3.4M262.45 353.87h-3.4M55.65 349.95h3.4M262.45 349.95h-3.4M55.65 346.9h3.4M262.45 346.9h-3.4M55.65 344.42h3.4M262.45 344.42h-3.4M55.65 342.31h3.4M262.45 342.31h-3.4M55.65 340.49h3.4M262.45 340.49h-3.4M55.65 338.89h3.4M262.45 338.89h-3.4M55.65 337.45h6.4M262.45 337.45h-6.4M55.65 328h3.4M262.45 328h-3.4M55.65 322.47h3.4M262.45 322.47h-3.4M55.65 318.55h3.4M262.45 318.55h-3.4M55.65 315.5h3.4M262.45 315.5h-3.4M55.65 313.02h3.4M262.45 313.02h-3.4M55.65 310.91h3.4M262.45 310.91h-3.4M55.65 309.09h3.4M262.45 309.09h-3.4M55.65 307.49h3.4M262.45 307.49h-3.4M55.65 306.05h6.4M262.45 306.05h-6.4M55.65 296.6h3.4M262.45 296.6h-3.4M55.65 291.07h3.4M262.45 291.07h-3.4M55.65 287.15h3.4M262.45 287.15h-3.4M55.65 284.1h3.4M262.45 284.1h-3.4M55.65 281.62h3.4M262.45 281.62h-3.4M55.65 279.51h3.4M262.45 279.51h-3.4M55.65 277.69h3.4M262.45 277.69h-3.4M55.65 276.09h3.4M262.45 276.09h-3.4" stroke="#000" stroke-width="1.25" fill="none"/><rect x="55.65" y="274.65" width="206.8" height="157" fill="none" stroke="#000" stroke-width="1.6"/><text x="20.15" y="436.15" font-size="13.4" textLength="14.9" lengthAdjust="spacingAndGlyphs" fill="#000" stroke="#000" stroke-width="0.5">10</text><text x="36.15" y="429.65" font-size="9.8" textLength="12.2" lengthAdjust="spacingAndGlyphs" fill="#000" stroke="#000" stroke-width="0.5">−2</text><text x="20.15" y="404.75" font-size="13.4" textLength="14.9" lengthAdjust="spacingAndGlyphs" fill="#000" stroke="#000" stroke-width="0.5">10</text><text x="36.15" y="398.25" font-size="9.8" textLength="12.2" lengthAdjust="spacingAndGlyphs" fill="#000" stroke="#000" stroke-width="0.5">−1</text><text x="40.05" y="373.35" font-size="13.4" textLength="5.2" lengthAdjust="spacingAndGlyphs" fill="#000" stroke="#000" stroke-width="0.5">1</text><text x="27.35" y="341.95" font-size="13.4" textLength="14.9" lengthAdjust="spacingAndGlyphs" fill="#000" stroke="#000" stroke-width="0.5">10</text><text x="43.35" y="335.45" font-size="9.8" textLength="5" lengthAdjust="spacingAndGlyphs" fill="#000" stroke="#000" stroke-width="0.5">1</text><text x="27.35" y="310.55" font-size="13.4" textLength="14.9" lengthAdjust="spacingAndGlyphs" fill="#000" stroke="#000" stroke-width="0.5">10</text><text x="43.35" y="304.05" font-size="9.8" textLength="5" lengthAdjust="spacingAndGlyphs" fill="#000" stroke="#000" stroke-width="0.5">2</text><text x="27.35" y="279.15" font-size="13.4" textLength="14.9" lengthAdjust="spacingAndGlyphs" fill="#000" stroke="#000" stroke-width="0.5">10</text><text x="43.35" y="272.65" font-size="9.8" textLength="5" lengthAdjust="spacingAndGlyphs" fill="#000" stroke="#000" stroke-width="0.5">3</text><text x="111.85" y="447.65" font-size="13.4" textLength="14.9" lengthAdjust="spacingAndGlyphs" fill="#000" stroke="#000" stroke-width="0.5">10</text><text x="127.85" y="441.15" font-size="9.8" textLength="5" lengthAdjust="spacingAndGlyphs" fill="#000" stroke="#000" stroke-width="0.5">1</text><text x="205.85" y="447.65" font-size="13.4" textLength="14.9" lengthAdjust="spacingAndGlyphs" fill="#000" stroke="#000" stroke-width="0.5">10</text><text x="221.85" y="441.15" font-size="9.8" textLength="5" lengthAdjust="spacingAndGlyphs" fill="#000" stroke="#000" stroke-width="0.5">2</text><text x="129.55" y="268.75" font-size="14" textLength="37.2" lengthAdjust="spacingAndGlyphs" fill="#000" stroke="#000" stroke-width="0.5">t=800</text><text x="175.25" y="268.75" font-size="14" textLength="13.3" lengthAdjust="spacingAndGlyphs" fill="#000" stroke="#000" stroke-width="0.5">yr</text><text x="139.15" y="472.55" font-size="13.5" textLength="39.6" lengthAdjust="spacingAndGlyphs" fill="#000" stroke="#000" stroke-width="0.5">λ(<tspan font-style="italic">μ</tspan>m)</text><g transform="translate(11.85 352.75) rotate(-90)"><text x="-18.8" y="0" font-size="14.2" textLength="7.6" lengthAdjust="spacingAndGlyphs" fill="#000" stroke="#000" stroke-width="0.5">F</text><text x="-11.3" y="4.6" font-size="10.5" textLength="6.7" lengthAdjust="spacingAndGlyphs" fill="#000" stroke="#000" stroke-width="0.5">λ</text><text x="-4" y="0" font-size="14.2" textLength="23" lengthAdjust="spacingAndGlyphs" fill="#000" stroke="#000" stroke-width="0.5">(Jy)</text></g>
<clipPath id="c4"><rect x="337" y="274.35" width="210" height="157.8"/></clipPath><path d="M398.4 432.69C398.52 431.09 398.85 423.15 399.15 422.67C399.45 422.19 400.09 428.56 400.27 429.68M404.03 413.4 L409.67 397.11M413.43 381.57C413.79 380.91 415.09 379.2 415.69 377.43C416.29 375.67 416.79 372.51 417.19 370.54C417.59 368.58 418.03 366.02 418.19 365.15M419.45 348.55 L423.46 332.27M430.47 318.48C430.75 317.38 431.75 313.54 432.23 311.59C432.71 309.65 433.28 307.17 433.48 306.33M434.73 306.83C435.19 306.99 436.81 307.75 437.61 307.83C438.42 307.91 438.64 307.77 439.74 307.33C440.85 306.89 442.78 305.7 444.51 305.07C446.23 304.45 449.56 303.71 450.52 303.45M465.81 303.2C467.01 303.34 470.72 303.43 473.33 304.07C475.93 304.71 480.69 306.7 482.1 307.2M494.63 317.23 L507.78 328.51M519.44 339.4C520.48 340.3 524.01 343.09 525.95 345.04C527.9 346.98 530.69 350.51 531.59 351.55M542.24 363.2 L547.88 368.84" fill="none" stroke="#00f400" stroke-width="1.3" clip-path="url(#c4)"/><path d="M336.12 425.67C336.42 425.51 336.7 425.47 338 424.67C339.3 423.87 342.26 422.15 344.27 420.66C346.27 419.18 348.53 417.16 350.53 415.4C352.53 413.64 354.79 411.44 356.8 409.64C358.8 407.83 361.06 405.97 363.06 404.12C365.07 402.28 367.32 400.07 369.33 398.11C371.33 396.14 373.59 393.95 375.59 391.84C377.6 389.74 379.85 387.16 381.86 384.95C383.86 382.75 386.42 379.86 388.12 378.06C389.82 376.26 391.46 374.98 392.51 373.67C393.55 372.37 394.09 371.32 394.64 369.92C395.18 368.51 395.57 366.61 395.89 364.9C396.21 363.2 396.32 361.07 396.64 359.27C396.96 357.46 397.39 355.64 397.89 353.63C398.4 351.61 399.29 348.59 399.77 346.67C400.25 344.76 400.52 342.87 400.9 341.66C401.28 340.46 401.69 339.6 402.15 339.16C402.62 338.72 403.12 338.61 403.78 338.91C404.44 339.21 405.39 340.23 406.29 341.04C407.19 341.84 408.42 343.18 409.42 343.92C410.42 344.66 411.71 345.53 412.55 345.67C413.4 345.81 413.98 345.44 414.68 344.8C415.39 344.15 416.32 342.97 416.94 341.66C417.56 340.36 418.13 338.45 418.57 336.65C419.01 334.85 419.32 332.19 419.7 330.39C420.08 328.58 420.49 326.98 420.95 325.37C421.41 323.77 422.02 321.97 422.58 320.36C423.14 318.76 423.86 316.65 424.46 315.35C425.06 314.05 425.64 313.12 426.34 312.22C427.04 311.31 428.1 310.51 428.84 309.71C429.59 308.91 430.47 308.21 430.97 307.2C431.47 306.2 431.72 304.95 431.98 303.45C432.24 301.94 432.4 299.51 432.6 297.81C432.8 296.1 433.07 293.56 433.23 292.8C433.39 292.03 433.48 292.24 433.6 293.05C433.73 293.85 433.8 296.34 433.98 297.81C434.16 299.27 434.35 301.09 434.73 302.19C435.11 303.3 435.7 304.04 436.36 304.7C437.02 305.36 437.97 305.95 438.87 306.33C439.77 306.71 440.9 306.84 442 307.08C443.1 307.32 444.56 307.75 445.76 307.83C446.96 307.91 448.42 307.72 449.52 307.58C450.62 307.44 451.65 306.87 452.65 306.95C453.65 307.03 454.68 307.68 455.78 308.08C456.89 308.48 458.34 309 459.54 309.46C460.75 309.92 462.1 310.58 463.3 310.96C464.5 311.34 465.76 311.7 467.06 311.84C468.36 311.98 470.14 311.72 471.45 311.84C472.75 311.96 473.9 312.13 475.2 312.59C476.51 313.05 478.09 313.84 479.59 314.72C481.09 315.61 483 316.84 484.6 318.11C486.21 319.37 487.31 320.71 489.61 322.62C491.92 324.52 496.21 327.82 499.01 330C501.82 332.18 504.25 334.02 507.16 336.27C510.06 338.51 513.97 341.59 517.18 344.03C520.39 346.48 524.8 349.49 527.2 351.55C529.61 353.62 530.21 354.77 532.22 356.94C534.22 359.1 537.53 362.78 539.73 365.08C541.94 367.39 544.7 370.03 546 371.35C547.3 372.67 547.58 373.03 547.88 373.35" fill="none" stroke="#ff0000" stroke-width="2.8" stroke-linejoin="round" clip-path="url(#c4)"/><circle cx="396.75" cy="356" r="3.15" fill="#0000ff"/><circle cx="409.45" cy="337.6" r="3.15" fill="#0000ff"/><circle cx="412.35" cy="331.9" r="3.15" fill="#0000ff"/><circle cx="419.95" cy="324.1" r="3.15" fill="#0000ff"/><circle cx="435.25" cy="297.6" r="3.15" fill="#0000ff"/><circle cx="439.85" cy="295.6" r="3.15" fill="#0000ff"/><circle cx="441.85" cy="299.8" r="3.15" fill="#0000ff"/><circle cx="477.45" cy="304" r="3.15" fill="#0000ff"/><circle cx="484.85" cy="306.1" r="3.15" fill="#0000ff"/><circle cx="498.55" cy="312" r="3.15" fill="#0000ff"/><path d="M355.25 431.65v-3.4M355.25 274.65v3.4M366.99 431.65v-3.4M366.99 274.65v3.4M376.1 431.65v-3.4M376.1 274.65v3.4M383.55 431.65v-3.4M383.55 274.65v3.4M389.84 431.65v-3.4M389.84 274.65v3.4M395.29 431.65v-3.4M395.29 274.65v3.4M400.1 431.65v-3.4M400.1 274.65v3.4M404.4 431.65v-6.4M404.4 274.65v6.4M432.7 431.65v-3.4M432.7 274.65v3.4M449.25 431.65v-3.4M449.25 274.65v3.4M460.99 431.65v-3.4M460.99 274.65v3.4M470.1 431.65v-3.4M470.1 274.65v3.4M477.55 431.65v-3.4M477.55 274.65v3.4M483.84 431.65v-3.4M483.84 274.65v3.4M489.29 431.65v-3.4M489.29 274.65v3.4M494.1 431.65v-3.4M494.1 274.65v3.4M498.4 431.65v-6.4M498.4 274.65v6.4M526.7 431.65v-3.4M526.7 274.65v3.4M543.25 431.65v-3.4M543.25 274.65v3.4M338.6 422.2h3.4M545.4 422.2h-3.4M338.6 416.67h3.4M545.4 416.67h-3.4M338.6 412.75h3.4M545.4 412.75h-3.4M338.6 409.7h3.4M545.4 409.7h-3.4M338.6 407.22h3.4M545.4 407.22h-3.4M338.6 405.11h3.4M545.4 405.11h-3.4M338.6 403.29h3.4M545.4 403.29h-3.4M338.6 401.69h3.4M545.4 401.69h-3.4M338.6 400.25h6.4M545.4 400.25h-6.4M338.6 390.8h3.4M545.4 390.8h-3.4M338.6 385.27h3.4M545.4 385.27h-3.4M338.6 381.35h3.4M545.4 381.35h-3.4M338.6 378.3h3.4M545.4 378.3h-3.4M338.6 375.82h3.4M545.4 375.82h-3.4M338.6 373.71h3.4M545.4 373.71h-3.4M338.6 371.89h3.4M545.4 371.89h-3.4M338.6 370.29h3.4M545.4 370.29h-3.4M338.6 368.85h6.4M545.4 368.85h-6.4M338.6 359.4h3.4M545.4 359.4h-3.4M338.6 353.87h3.4M545.4 353.87h-3.4M338.6 349.95h3.4M545.4 349.95h-3.4M338.6 346.9h3.4M545.4 346.9h-3.4M338.6 344.42h3.4M545.4 344.42h-3.4M338.6 342.31h3.4M545.4 342.31h-3.4M338.6 340.49h3.4M545.4 340.49h-3.4M338.6 338.89h3.4M545.4 338.89h-3.4M338.6 337.45h6.4M545.4 337.45h-6.4M338.6 328h3.4M545.4 328h-3.4M338.6 322.47h3.4M545.4 322.47h-3.4M338.6 318.55h3.4M545.4 318.55h-3.4M338.6 315.5h3.4M545.4 315.5h-3.4M338.6 313.02h3.4M545.4 313.02h-3.4M338.6 310.91h3.4M545.4 310.91h-3.4M338.6 309.09h3.4M545.4 309.09h-3.4M338.6 307.49h3.4M545.4 307.49h-3.4M338.6 306.05h6.4M545.4 306.05h-6.4M338.6 296.6h3.4M545.4 296.6h-3.4M338.6 291.07h3.4M545.4 291.07h-3.4M338.6 287.15h3.4M545.4 287.15h-3.4M338.6 284.1h3.4M545.4 284.1h-3.4M338.6 281.62h3.4M545.4 281.62h-3.4M338.6 279.51h3.4M545.4 279.51h-3.4M338.6 277.69h3.4M545.4 277.69h-3.4M338.6 276.09h3.4M545.4 276.09h-3.4" stroke="#000" stroke-width="1.25" fill="none"/><rect x="338.6" y="274.65" width="206.8" height="157" fill="none" stroke="#000" stroke-width="1.6"/><text x="303.1" y="436.15" font-size="13.4" textLength="14.9" lengthAdjust="spacingAndGlyphs" fill="#000" stroke="#000" stroke-width="0.5">10</text><text x="319.1" y="429.65" font-size="9.8" textLength="12.2" lengthAdjust="spacingAndGlyphs" fill="#000" stroke="#000" stroke-width="0.5">−2</text><text x="303.1" y="404.75" font-size="13.4" textLength="14.9" lengthAdjust="spacingAndGlyphs" fill="#000" stroke="#000" stroke-width="0.5">10</text><text x="319.1" y="398.25" font-size="9.8" textLength="12.2" lengthAdjust="spacingAndGlyphs" fill="#000" stroke="#000" stroke-width="0.5">−1</text><text x="323" y="373.35" font-size="13.4" textLength="5.2" lengthAdjust="spacingAndGlyphs" fill="#000" stroke="#000" stroke-width="0.5">1</text><text x="310.3" y="341.95" font-size="13.4" textLength="14.9" lengthAdjust="spacingAndGlyphs" fill="#000" stroke="#000" stroke-width="0.5">10</text><text x="326.3" y="335.45" font-size="9.8" textLength="5" lengthAdjust="spacingAndGlyphs" fill="#000" stroke="#000" stroke-width="0.5">1</text><text x="310.3" y="310.55" font-size="13.4" textLength="14.9" lengthAdjust="spacingAndGlyphs" fill="#000" stroke="#000" stroke-width="0.5">10</text><text x="326.3" y="304.05" font-size="9.8" textLength="5" lengthAdjust="spacingAndGlyphs" fill="#000" stroke="#000" stroke-width="0.5">2</text><text x="310.3" y="279.15" font-size="13.4" textLength="14.9" lengthAdjust="spacingAndGlyphs" fill="#000" stroke="#000" stroke-width="0.5">10</text><text x="326.3" y="272.65" font-size="9.8" textLength="5" lengthAdjust="spacingAndGlyphs" fill="#000" stroke="#000" stroke-width="0.5">3</text><text x="394.8" y="447.65" font-size="13.4" textLength="14.9" lengthAdjust="spacingAndGlyphs" fill="#000" stroke="#000" stroke-width="0.5">10</text><text x="410.8" y="441.15" font-size="9.8" textLength="5" lengthAdjust="spacingAndGlyphs" fill="#000" stroke="#000" stroke-width="0.5">1</text><text x="488.8" y="447.65" font-size="13.4" textLength="14.9" lengthAdjust="spacingAndGlyphs" fill="#000" stroke="#000" stroke-width="0.5">10</text><text x="504.8" y="441.15" font-size="9.8" textLength="5" lengthAdjust="spacingAndGlyphs" fill="#000" stroke="#000" stroke-width="0.5">2</text><text x="408.9" y="268.75" font-size="14" textLength="44.4" lengthAdjust="spacingAndGlyphs" fill="#000" stroke="#000" stroke-width="0.5">t=1000</text><text x="461.8" y="268.75" font-size="14" textLength="13.3" lengthAdjust="spacingAndGlyphs" fill="#000" stroke="#000" stroke-width="0.5">yr</text><text x="422.1" y="472.55" font-size="13.5" textLength="39.6" lengthAdjust="spacingAndGlyphs" fill="#000" stroke="#000" stroke-width="0.5">λ(<tspan font-style="italic">μ</tspan>m)</text><g transform="translate(294.8 352.75) rotate(-90)"><text x="-18.8" y="0" font-size="14.2" textLength="7.6" lengthAdjust="spacingAndGlyphs" fill="#000" stroke="#000" stroke-width="0.5">F</text><text x="-11.3" y="4.6" font-size="10.5" textLength="6.7" lengthAdjust="spacingAndGlyphs" fill="#000" stroke="#000" stroke-width="0.5">λ</text><text x="-4" y="0" font-size="14.2" textLength="23" lengthAdjust="spacingAndGlyphs" fill="#000" stroke="#000" stroke-width="0.5">(Jy)</text></g>
<clipPath id="c5"><rect x="619.95" y="274.35" width="210" height="157.8"/></clipPath><path d="M681.52 428.81 L682.9 432.69M684.4 432.69C684.68 431.77 685.47 428.85 686.16 426.93C686.84 425 688.26 421.67 688.66 420.66M693.3 404.37C693.66 402.57 694.89 395.64 695.55 393.1C696.22 390.55 697.13 389.2 697.43 388.46M700.57 372.42 L702.7 355.26M705.2 339.16C705.56 338.66 706.86 336.73 707.46 336.02C708.06 335.32 708.52 334.77 708.96 334.77C709.4 334.77 709.75 336.12 710.21 336.02C710.68 335.92 711.32 335.15 711.84 334.14C712.36 333.14 713.21 330.46 713.47 329.76M726.25 318.11C726.95 317.87 729.24 317.28 730.64 316.6C732.04 315.92 733.72 314.35 735.02 313.85C736.33 313.34 737.62 313.49 738.78 313.47C739.95 313.45 741.73 313.68 742.29 313.72M757.83 315.35C758.99 315.95 762.73 317.66 765.1 319.11C767.46 320.55 771.41 323.53 772.61 324.37M784.52 335.01 L797.67 346.04M809.95 356.56 L821.48 369.09" fill="none" stroke="#00f400" stroke-width="1.3" clip-path="url(#c5)"/><path d="M624.76 433.19C624.96 433.03 625.01 432.95 626.01 432.19C627.01 431.43 629.42 429.77 631.02 428.43C632.63 427.09 634.43 425.34 636.04 423.8C637.64 422.25 639.44 420.45 641.05 418.78C642.65 417.12 644.26 415.34 646.06 413.4C647.86 411.45 650.32 408.77 652.33 406.63C654.33 404.48 656.59 402.15 658.59 399.99C660.6 397.82 662.85 395.36 664.86 393.1C666.86 390.83 669.42 387.73 671.12 385.83C672.82 383.92 674.5 382.64 675.51 381.19C676.51 379.75 676.88 378.51 677.39 376.81C677.89 375.1 678.28 372.75 678.64 370.54C679 368.34 679.28 365.63 679.64 363.02C680 360.42 680.35 356.87 680.89 354.25C681.44 351.64 682.48 348.49 683.02 346.67C683.57 344.86 683.88 343.66 684.28 342.92C684.68 342.17 685.03 341.94 685.53 342.04C686.03 342.14 686.71 342.8 687.41 343.54C688.11 344.28 689.01 345.61 689.92 346.67C690.82 347.74 692.15 349.38 693.05 350.18C693.95 350.99 694.85 351.55 695.55 351.69C696.26 351.83 696.77 351.66 697.43 351.06C698.1 350.46 699.05 349.33 699.69 347.93C700.33 346.52 700.96 344.29 701.44 342.29C701.92 340.28 702.3 337.5 702.7 335.4C703.1 333.29 703.49 330.84 703.95 329.13C704.41 327.43 705.02 325.79 705.58 324.75C706.14 323.7 706.86 323.12 707.46 322.62C708.06 322.12 708.74 321.81 709.34 321.61C709.94 321.41 710.62 321.66 711.22 321.36C711.82 321.06 712.6 320.5 713.1 319.73C713.6 318.97 714.01 318.11 714.35 316.6C714.69 315.1 714.97 312.64 715.23 310.34C715.49 308.03 715.78 303.9 715.98 302.19C716.18 300.49 716.32 299.39 716.48 299.69C716.64 299.99 716.78 302.27 716.98 304.07C717.18 305.88 717.35 309.26 717.73 310.96C718.11 312.67 718.7 313.72 719.36 314.72C720.02 315.73 720.97 316.57 721.87 317.23C722.77 317.89 724 318.26 725 318.86C726 319.46 727.23 320.55 728.13 320.99C729.03 321.43 729.84 321.67 730.64 321.61C731.44 321.55 732.34 320.85 733.14 320.61C733.95 320.37 734.75 319.99 735.65 320.11C736.55 320.23 737.68 320.92 738.78 321.36C739.89 321.8 741.34 322.33 742.54 322.87C743.75 323.41 745.3 324.25 746.3 324.75C747.3 325.25 747.91 325.84 748.81 326C749.71 326.16 750.94 325.89 751.94 325.75C752.94 325.61 754.13 325.18 755.07 325.12C756.01 325.06 756.83 325.03 757.83 325.37C758.83 325.71 760.17 326.55 761.34 327.25C762.5 327.95 763.49 328.72 765.1 329.76C766.7 330.8 769.56 332.36 771.36 333.76C773.17 335.16 774.77 337.02 776.37 338.52C777.98 340.02 779.58 341.75 781.39 343.16C783.19 344.56 785.45 345.83 787.65 347.29C789.86 348.76 792.76 350.7 795.17 352.3C797.57 353.91 800.28 355.63 802.69 357.32C805.09 359 808.2 361.08 810.2 362.83C812.21 364.57 813.21 366.05 815.22 368.22C817.22 370.38 820.53 374.06 822.73 376.36C824.94 378.67 827.7 381.3 829 382.63C830.3 383.95 830.58 384.31 830.88 384.63" fill="none" stroke="#ff0000" stroke-width="2.8" stroke-linejoin="round" clip-path="url(#c5)"/><circle cx="679.7" cy="356" r="3.15" fill="#0000ff"/><circle cx="692.4" cy="337.6" r="3.15" fill="#0000ff"/><circle cx="695.3" cy="331.9" r="3.15" fill="#0000ff"/><circle cx="702.9" cy="324.1" r="3.15" fill="#0000ff"/><circle cx="718.2" cy="297.6" r="3.15" fill="#0000ff"/><circle cx="722.8" cy="295.6" r="3.15" fill="#0000ff"/><circle cx="724.8" cy="299.8" r="3.15" fill="#0000ff"/><circle cx="760.4" cy="304" r="3.15" fill="#0000ff"/><circle cx="767.8" cy="306.1" r="3.15" fill="#0000ff"/><circle cx="781.5" cy="312" r="3.15" fill="#0000ff"/><path d="M638.2 431.65v-3.4M638.2 274.65v3.4M649.94 431.65v-3.4M649.94 274.65v3.4M659.05 431.65v-3.4M659.05 274.65v3.4M666.5 431.65v-3.4M666.5 274.65v3.4M672.79 431.65v-3.4M672.79 274.65v3.4M678.24 431.65v-3.4M678.24 274.65v3.4M683.05 431.65v-3.4M683.05 274.65v3.4M687.35 431.65v-6.4M687.35 274.65v6.4M715.65 431.65v-3.4M715.65 274.65v3.4M732.2 431.65v-3.4M732.2 274.65v3.4M743.94 431.65v-3.4M743.94 274.65v3.4M753.05 431.65v-3.4M753.05 274.65v3.4M760.5 431.65v-3.4M760.5 274.65v3.4M766.79 431.65v-3.4M766.79 274.65v3.4M772.24 431.65v-3.4M772.24 274.65v3.4M777.05 431.65v-3.4M777.05 274.65v3.4M781.35 431.65v-6.4M781.35 274.65v6.4M809.65 431.65v-3.4M809.65 274.65v3.4M826.2 431.65v-3.4M826.2 274.65v3.4M621.55 422.2h3.4M828.35 422.2h-3.4M621.55 416.67h3.4M828.35 416.67h-3.4M621.55 412.75h3.4M828.35 412.75h-3.4M621.55 409.7h3.4M828.35 409.7h-3.4M621.55 407.22h3.4M828.35 407.22h-3.4M621.55 405.11h3.4M828.35 405.11h-3.4M621.55 403.29h3.4M828.35 403.29h-3.4M621.55 401.69h3.4M828.35 401.69h-3.4M621.55 400.25h6.4M828.35 400.25h-6.4M621.55 390.8h3.4M828.35 390.8h-3.4M621.55 385.27h3.4M828.35 385.27h-3.4M621.55 381.35h3.4M828.35 381.35h-3.4M621.55 378.3h3.4M828.35 378.3h-3.4M621.55 375.82h3.4M828.35 375.82h-3.4M621.55 373.71h3.4M828.35 373.71h-3.4M621.55 371.89h3.4M828.35 371.89h-3.4M621.55 370.29h3.4M828.35 370.29h-3.4M621.55 368.85h6.4M828.35 368.85h-6.4M621.55 359.4h3.4M828.35 359.4h-3.4M621.55 353.87h3.4M828.35 353.87h-3.4M621.55 349.95h3.4M828.35 349.95h-3.4M621.55 346.9h3.4M828.35 346.9h-3.4M621.55 344.42h3.4M828.35 344.42h-3.4M621.55 342.31h3.4M828.35 342.31h-3.4M621.55 340.49h3.4M828.35 340.49h-3.4M621.55 338.89h3.4M828.35 338.89h-3.4M621.55 337.45h6.4M828.35 337.45h-6.4M621.55 328h3.4M828.35 328h-3.4M621.55 322.47h3.4M828.35 322.47h-3.4M621.55 318.55h3.4M828.35 318.55h-3.4M621.55 315.5h3.4M828.35 315.5h-3.4M621.55 313.02h3.4M828.35 313.02h-3.4M621.55 310.91h3.4M828.35 310.91h-3.4M621.55 309.09h3.4M828.35 309.09h-3.4M621.55 307.49h3.4M828.35 307.49h-3.4M621.55 306.05h6.4M828.35 306.05h-6.4M621.55 296.6h3.4M828.35 296.6h-3.4M621.55 291.07h3.4M828.35 291.07h-3.4M621.55 287.15h3.4M828.35 287.15h-3.4M621.55 284.1h3.4M828.35 284.1h-3.4M621.55 281.62h3.4M828.35 281.62h-3.4M621.55 279.51h3.4M828.35 279.51h-3.4M621.55 277.69h3.4M828.35 277.69h-3.4M621.55 276.09h3.4M828.35 276.09h-3.4" stroke="#000" stroke-width="1.25" fill="none"/><rect x="621.55" y="274.65" width="206.8" height="157" fill="none" stroke="#000" stroke-width="1.6"/><text x="586.05" y="436.15" font-size="13.4" textLength="14.9" lengthAdjust="spacingAndGlyphs" fill="#000" stroke="#000" stroke-width="0.5">10</text><text x="602.05" y="429.65" font-size="9.8" textLength="12.2" lengthAdjust="spacingAndGlyphs" fill="#000" stroke="#000" stroke-width="0.5">−2</text><text x="586.05" y="404.75" font-size="13.4" textLength="14.9" lengthAdjust="spacingAndGlyphs" fill="#000" stroke="#000" stroke-width="0.5">10</text><text x="602.05" y="398.25" font-size="9.8" textLength="12.2" lengthAdjust="spacingAndGlyphs" fill="#000" stroke="#000" stroke-width="0.5">−1</text><text x="605.95" y="373.35" font-size="13.4" textLength="5.2" lengthAdjust="spacingAndGlyphs" fill="#000" stroke="#000" stroke-width="0.5">1</text><text x="593.25" y="341.95" font-size="13.4" textLength="14.9" lengthAdjust="spacingAndGlyphs" fill="#000" stroke="#000" stroke-width="0.5">10</text><text x="609.25" y="335.45" font-size="9.8" textLength="5" lengthAdjust="spacingAndGlyphs" fill="#000" stroke="#000" stroke-width="0.5">1</text><text x="593.25" y="310.55" font-size="13.4" textLength="14.9" lengthAdjust="spacingAndGlyphs" fill="#000" stroke="#000" stroke-width="0.5">10</text><text x="609.25" y="304.05" font-size="9.8" textLength="5" lengthAdjust="spacingAndGlyphs" fill="#000" stroke="#000" stroke-width="0.5">2</text><text x="593.25" y="279.15" font-size="13.4" textLength="14.9" lengthAdjust="spacingAndGlyphs" fill="#000" stroke="#000" stroke-width="0.5">10</text><text x="609.25" y="272.65" font-size="9.8" textLength="5" lengthAdjust="spacingAndGlyphs" fill="#000" stroke="#000" stroke-width="0.5">3</text><text x="677.75" y="447.65" font-size="13.4" textLength="14.9" lengthAdjust="spacingAndGlyphs" fill="#000" stroke="#000" stroke-width="0.5">10</text><text x="693.75" y="441.15" font-size="9.8" textLength="5" lengthAdjust="spacingAndGlyphs" fill="#000" stroke="#000" stroke-width="0.5">1</text><text x="771.75" y="447.65" font-size="13.4" textLength="14.9" lengthAdjust="spacingAndGlyphs" fill="#000" stroke="#000" stroke-width="0.5">10</text><text x="787.75" y="441.15" font-size="9.8" textLength="5" lengthAdjust="spacingAndGlyphs" fill="#000" stroke="#000" stroke-width="0.5">2</text><text x="691.85" y="268.75" font-size="14" textLength="44.4" lengthAdjust="spacingAndGlyphs" fill="#000" stroke="#000" stroke-width="0.5">t=1200</text><text x="744.75" y="268.75" font-size="14" textLength="13.3" lengthAdjust="spacingAndGlyphs" fill="#000" stroke="#000" stroke-width="0.5">yr</text><text x="705.05" y="472.55" font-size="13.5" textLength="39.6" lengthAdjust="spacingAndGlyphs" fill="#000" stroke="#000" stroke-width="0.5">λ(<tspan font-style="italic">μ</tspan>m)</text><g transform="translate(577.75 352.75) rotate(-90)"><text x="-18.8" y="0" font-size="14.2" textLength="7.6" lengthAdjust="spacingAndGlyphs" fill="#000" stroke="#000" stroke-width="0.5">F</text><text x="-11.3" y="4.6" font-size="10.5" textLength="6.7" lengthAdjust="spacingAndGlyphs" fill="#000" stroke="#000" stroke-width="0.5">λ</text><text x="-4" y="0" font-size="14.2" textLength="23" lengthAdjust="spacingAndGlyphs" fill="#000" stroke="#000" stroke-width="0.5">(Jy)</text></g>
<clipPath id="c6"><rect x="54.05" y="533.3" width="210" height="157.8"/></clipPath><path d="M122.41 691.69C122.85 690.37 124.33 686.15 125.17 683.42C126.01 680.7 127.27 676.05 127.67 674.65M130.43 658.99C130.83 658.09 132.24 656.06 132.94 653.35C133.64 650.64 134.52 643.88 134.82 642.07M136.2 626.41C136.34 625.11 136.73 620.97 137.07 618.27C137.41 615.56 138.12 610.9 138.33 609.49M144.59 605.42C144.79 605.36 145.44 606.01 145.84 605.05C146.24 604.09 146.56 601.61 147.1 599.41C147.64 597.2 148.89 592.57 149.23 591.27M164.26 587.88C164.92 587.36 167.23 585.33 168.4 584.62C169.56 583.92 170.43 583.68 171.53 583.5C172.63 583.32 173.93 583.3 175.29 583.5C176.65 583.7 179.29 584.55 180.05 584.75M195.34 586.5C196.44 587.13 199.98 588.86 202.23 590.39C204.47 591.91 208.23 595.12 209.37 596.03M221.27 606.92 L234.81 617.32M246.96 627.97 L258.99 640.37" fill="none" stroke="#00f400" stroke-width="1.3" clip-path="url(#c6)"/><path d="M67.53 692.19C67.73 692.03 67.78 691.99 68.78 691.19C69.79 690.39 71.99 688.76 73.8 687.18C75.6 685.6 78.06 683.3 80.06 681.29C82.07 679.29 84.32 676.82 86.33 674.65C88.33 672.49 90.59 670 92.59 667.76C94.6 665.51 96.85 662.92 98.86 660.62C100.86 658.31 103.36 655.35 105.12 653.35C106.88 651.34 108.84 649.69 109.88 648.09C110.92 646.48 111.15 645.19 111.64 643.33C112.12 641.46 112.53 638.84 112.89 636.43C113.25 634.03 113.53 630.9 113.89 628.29C114.25 625.68 114.74 622.35 115.14 620.14C115.55 617.94 116 615.97 116.4 614.51C116.8 613.04 117.21 611.84 117.65 611C118.09 610.16 118.65 609.08 119.15 609.24C119.66 609.4 120.12 610.96 120.78 612C121.44 613.04 122.49 614.6 123.29 615.76C124.09 616.92 124.99 618.37 125.8 619.27C126.6 620.17 127.4 621.2 128.3 621.4C129.2 621.6 130.53 620.86 131.43 620.52C132.34 620.18 133.24 620.23 133.94 619.27C134.64 618.31 135.38 616.68 135.82 614.51C136.26 612.33 136.36 608.29 136.7 605.67C137.04 603.06 137.49 600.06 137.95 598.16C138.41 596.25 139.02 594.81 139.58 593.77C140.14 592.73 140.86 592.04 141.46 591.64C142.06 591.24 142.78 591.02 143.34 591.27C143.9 591.51 144.42 593.04 144.97 593.14C145.51 593.24 146.18 592.89 146.72 591.89C147.26 590.89 147.89 589.29 148.35 586.88C148.81 584.47 149.26 579.66 149.6 576.86C149.94 574.05 150.26 570.78 150.48 569.34C150.7 567.89 150.82 567.63 150.98 567.83C151.14 568.03 151.3 568.95 151.48 570.59C151.66 572.23 151.81 576.1 152.11 578.11C152.41 580.11 152.86 581.76 153.36 583.12C153.86 584.48 154.64 585.71 155.24 586.63C155.84 587.55 156.52 588.1 157.12 588.88C157.72 589.66 157.9 590.82 159 591.5C160.1 592.18 162.61 593.17 164.01 593.13C165.42 593.09 166.77 591.69 167.77 591.25C168.77 590.81 169.27 590.38 170.28 590.38C171.28 590.38 172.63 590.71 174.04 591.25C175.44 591.79 177.64 592.86 179.05 593.76C180.45 594.66 181.5 596.65 182.81 596.89C184.11 597.13 185.75 595.76 187.19 595.26C188.64 594.76 190.53 593.76 191.83 593.76C193.13 593.76 193.97 594.5 195.34 595.26C196.7 596.02 198.65 597.4 200.35 598.52C202.05 599.64 204.38 600.84 205.99 602.28C207.59 603.72 208.87 605.8 210.37 607.54C211.88 609.29 213.58 611.68 215.39 613.18C217.19 614.68 219.45 615.64 221.65 616.94C223.86 618.24 226.76 619.92 229.17 621.33C231.57 622.73 234.28 624.31 236.69 625.71C239.09 627.11 242.2 628.55 244.2 630.1C246.21 631.64 247.21 633.25 249.22 635.36C251.22 637.46 254.53 640.99 256.73 643.25C258.94 645.52 261.7 648.21 263 649.52C264.3 650.82 264.58 651.1 264.88 651.4" fill="none" stroke="#ff0000" stroke-width="2.8" stroke-linejoin="round" clip-path="url(#c6)"/><circle cx="113.8" cy="614.95" r="3.15" fill="#0000ff"/><circle cx="126.5" cy="596.55" r="3.15" fill="#0000ff"/><circle cx="129.4" cy="590.85" r="3.15" fill="#0000ff"/><circle cx="137" cy="583.05" r="3.15" fill="#0000ff"/><circle cx="152.3" cy="556.55" r="3.15" fill="#0000ff"/><circle cx="156.9" cy="554.55" r="3.15" fill="#0000ff"/><circle cx="158.9" cy="558.75" r="3.15" fill="#0000ff"/><circle cx="194.5" cy="562.95" r="3.15" fill="#0000ff"/><circle cx="201.9" cy="565.05" r="3.15" fill="#0000ff"/><circle cx="215.6" cy="570.95" r="3.15" fill="#0000ff"/><path d="M72.3 690.6v-3.4M72.3 533.6v3.4M84.04 690.6v-3.4M84.04 533.6v3.4M93.15 690.6v-3.4M93.15 533.6v3.4M100.6 690.6v-3.4M100.6 533.6v3.4M106.89 690.6v-3.4M106.89 533.6v3.4M112.34 690.6v-3.4M112.34 533.6v3.4M117.15 690.6v-3.4M117.15 533.6v3.4M121.45 690.6v-6.4M121.45 533.6v6.4M149.75 690.6v-3.4M149.75 533.6v3.4M166.3 690.6v-3.4M166.3 533.6v3.4M178.04 690.6v-3.4M178.04 533.6v3.4M187.15 690.6v-3.4M187.15 533.6v3.4M194.6 690.6v-3.4M194.6 533.6v3.4M200.89 690.6v-3.4M200.89 533.6v3.4M206.34 690.6v-3.4M206.34 533.6v3.4M211.15 690.6v-3.4M211.15 533.6v3.4M215.45 690.6v-6.4M215.45 533.6v6.4M243.75 690.6v-3.4M243.75 533.6v3.4M260.3 690.6v-3.4M260.3 533.6v3.4M55.65 681.15h3.4M262.45 681.15h-3.4M55.65 675.62h3.4M262.45 675.62h-3.4M55.65 671.7h3.4M262.45 671.7h-3.4M55.65 668.65h3.4M262.45 668.65h-3.4M55.65 666.17h3.4M262.45 666.17h-3.4M55.65 664.06h3.4M262.45 664.06h-3.4M55.65 662.24h3.4M262.45 662.24h-3.4M55.65 660.64h3.4M262.45 660.64h-3.4M55.65 659.2h6.4M262.45 659.2h-6.4M55.65 649.75h3.4M262.45 649.75h-3.4M55.65 644.22h3.4M262.45 644.22h-3.4M55.65 640.3h3.4M262.45 640.3h-3.4M55.65 637.25h3.4M262.45 637.25h-3.4M55.65 634.77h3.4M262.45 634.77h-3.4M55.65 632.66h3.4M262.45 632.66h-3.4M55.65 630.84h3.4M262.45 630.84h-3.4M55.65 629.24h3.4M262.45 629.24h-3.4M55.65 627.8h6.4M262.45 627.8h-6.4M55.65 618.35h3.4M262.45 618.35h-3.4M55.65 612.82h3.4M262.45 612.82h-3.4M55.65 608.9h3.4M262.45 608.9h-3.4M55.65 605.85h3.4M262.45 605.85h-3.4M55.65 603.37h3.4M262.45 603.37h-3.4M55.65 601.26h3.4M262.45 601.26h-3.4M55.65 599.44h3.4M262.45 599.44h-3.4M55.65 597.84h3.4M262.45 597.84h-3.4M55.65 596.4h6.4M262.45 596.4h-6.4M55.65 586.95h3.4M262.45 586.95h-3.4M55.65 581.42h3.4M262.45 581.42h-3.4M55.65 577.5h3.4M262.45 577.5h-3.4M55.65 574.45h3.4M262.45 574.45h-3.4M55.65 571.97h3.4M262.45 571.97h-3.4M55.65 569.86h3.4M262.45 569.86h-3.4M55.65 568.04h3.4M262.45 568.04h-3.4M55.65 566.44h3.4M262.45 566.44h-3.4M55.65 565h6.4M262.45 565h-6.4M55.65 555.55h3.4M262.45 555.55h-3.4M55.65 550.02h3.4M262.45 550.02h-3.4M55.65 546.1h3.4M262.45 546.1h-3.4M55.65 543.05h3.4M262.45 543.05h-3.4M55.65 540.57h3.4M262.45 540.57h-3.4M55.65 538.46h3.4M262.45 538.46h-3.4M55.65 536.64h3.4M262.45 536.64h-3.4M55.65 535.04h3.4M262.45 535.04h-3.4" stroke="#000" stroke-width="1.25" fill="none"/><rect x="55.65" y="533.6" width="206.8" height="157" fill="none" stroke="#000" stroke-width="1.6"/><text x="20.15" y="695.1" font-size="13.4" textLength="14.9" lengthAdjust="spacingAndGlyphs" fill="#000" stroke="#000" stroke-width="0.5">10</text><text x="36.15" y="688.6" font-size="9.8" textLength="12.2" lengthAdjust="spacingAndGlyphs" fill="#000" stroke="#000" stroke-width="0.5">−2</text><text x="20.15" y="663.7" font-size="13.4" textLength="14.9" lengthAdjust="spacingAndGlyphs" fill="#000" stroke="#000" stroke-width="0.5">10</text><text x="36.15" y="657.2" font-size="9.8" textLength="12.2" lengthAdjust="spacingAndGlyphs" fill="#000" stroke="#000" stroke-width="0.5">−1</text><text x="40.05" y="632.3" font-size="13.4" textLength="5.2" lengthAdjust="spacingAndGlyphs" fill="#000" stroke="#000" stroke-width="0.5">1</text><text x="27.35" y="600.9" font-size="13.4" textLength="14.9" lengthAdjust="spacingAndGlyphs" fill="#000" stroke="#000" stroke-width="0.5">10</text><text x="43.35" y="594.4" font-size="9.8" textLength="5" lengthAdjust="spacingAndGlyphs" fill="#000" stroke="#000" stroke-width="0.5">1</text><text x="27.35" y="569.5" font-size="13.4" textLength="14.9" lengthAdjust="spacingAndGlyphs" fill="#000" stroke="#000" stroke-width="0.5">10</text><text x="43.35" y="563" font-size="9.8" textLength="5" lengthAdjust="spacingAndGlyphs" fill="#000" stroke="#000" stroke-width="0.5">2</text><text x="27.35" y="538.1" font-size="13.4" textLength="14.9" lengthAdjust="spacingAndGlyphs" fill="#000" stroke="#000" stroke-width="0.5">10</text><text x="43.35" y="531.6" font-size="9.8" textLength="5" lengthAdjust="spacingAndGlyphs" fill="#000" stroke="#000" stroke-width="0.5">3</text><text x="111.85" y="706.6" font-size="13.4" textLength="14.9" lengthAdjust="spacingAndGlyphs" fill="#000" stroke="#000" stroke-width="0.5">10</text><text x="127.85" y="700.1" font-size="9.8" textLength="5" lengthAdjust="spacingAndGlyphs" fill="#000" stroke="#000" stroke-width="0.5">1</text><text x="205.85" y="706.6" font-size="13.4" textLength="14.9" lengthAdjust="spacingAndGlyphs" fill="#000" stroke="#000" stroke-width="0.5">10</text><text x="221.85" y="700.1" font-size="9.8" textLength="5" lengthAdjust="spacingAndGlyphs" fill="#000" stroke="#000" stroke-width="0.5">2</text><text x="125.95" y="527.7" font-size="14" textLength="44.4" lengthAdjust="spacingAndGlyphs" fill="#000" stroke="#000" stroke-width="0.5">t=1400</text><text x="178.85" y="527.7" font-size="14" textLength="13.3" lengthAdjust="spacingAndGlyphs" fill="#000" stroke="#000" stroke-width="0.5">yr</text><text x="139.15" y="731.5" font-size="13.5" textLength="39.6" lengthAdjust="spacingAndGlyphs" fill="#000" stroke="#000" stroke-width="0.5">λ(<tspan font-style="italic">μ</tspan>m)</text><g transform="translate(11.85 611.7) rotate(-90)"><text x="-18.8" y="0" font-size="14.2" textLength="7.6" lengthAdjust="spacingAndGlyphs" fill="#000" stroke="#000" stroke-width="0.5">F</text><text x="-11.3" y="4.6" font-size="10.5" textLength="6.7" lengthAdjust="spacingAndGlyphs" fill="#000" stroke="#000" stroke-width="0.5">λ</text><text x="-4" y="0" font-size="14.2" textLength="23" lengthAdjust="spacingAndGlyphs" fill="#000" stroke="#000" stroke-width="0.5">(Jy)</text></g>
<clipPath id="c7"><rect x="337" y="533.3" width="210" height="157.8"/></clipPath><path d="M407.67 691.69C408.05 690.37 409.41 686.19 410.05 683.42C410.69 680.66 411.42 675.84 411.68 674.4M415.69 658.99 L418.19 642.07M419.7 625.78C419.96 624.18 420.92 618.37 421.33 615.76C421.73 613.15 422.06 610.5 422.2 609.49M428.22 614.76C428.42 614.22 429.17 612.63 429.47 611.37C429.77 610.12 429.66 608.74 430.1 606.93C430.54 605.11 431.89 601.14 432.23 600.04M444.76 597.29C445.12 597.33 445.95 598.24 447.01 597.54C448.07 596.84 449.99 593.75 451.4 592.91C452.8 592.06 454.48 592.2 455.78 592.28C457.09 592.36 458.94 593.23 459.54 593.41M474.58 593.16C475.78 593.76 479.73 595.51 482.1 596.92C484.46 598.32 488.2 601.13 489.36 601.93M500.52 613.46 L514.67 623.48M527.58 633.25 L539.48 645.16" fill="none" stroke="#00f400" stroke-width="1.3" clip-path="url(#c7)"/><path d="M358.05 692.19C358.25 692.03 358.5 691.79 359.3 691.19C360.1 690.59 361.46 689.84 363.06 688.43C364.66 687.03 367.32 684.52 369.33 682.42C371.33 680.31 373.59 677.52 375.59 675.28C377.6 673.03 379.85 670.65 381.86 668.39C383.86 666.12 386.42 663.08 388.12 661.12C389.82 659.15 391.5 657.65 392.51 656.11C393.51 654.56 393.84 653.51 394.39 651.47C394.93 649.42 395.45 646.03 395.89 643.33C396.33 640.62 396.78 637.16 397.14 634.55C397.5 631.95 397.86 628.88 398.14 627.04C398.43 625.19 398.66 623.27 398.9 623.03C399.14 622.79 399.37 625.33 399.65 625.53C399.93 625.73 400.19 624.48 400.65 624.28C401.11 624.08 401.93 623.88 402.53 624.28C403.13 624.68 403.71 625.78 404.41 626.79C405.11 627.79 406.11 629.5 406.92 630.54C407.72 631.59 408.78 632.82 409.42 633.3C410.06 633.78 410.48 633.95 410.93 633.55C411.37 633.15 411.82 631.48 412.18 630.8C412.54 630.11 412.78 629.53 413.18 629.29C413.58 629.05 414.12 629.49 414.68 629.29C415.25 629.09 416.13 629 416.69 628.04C417.25 627.08 417.75 625.24 418.19 623.28C418.63 621.31 419.15 618.58 419.45 615.76C419.75 612.94 419.77 608.09 420.07 605.67C420.37 603.26 420.86 601.87 421.33 600.66C421.79 599.46 422.41 598.66 422.95 598.16C423.5 597.66 424.17 597.23 424.71 597.53C425.25 597.83 425.88 598.93 426.34 600.04C426.8 601.14 427.19 603.62 427.59 604.42C427.99 605.22 428.38 605.55 428.84 605.05C429.3 604.55 430.01 603.19 430.47 601.29C430.93 599.38 431.38 596.05 431.73 593.14C432.07 590.24 432.34 586.03 432.6 583.12C432.86 580.21 433.15 576.42 433.35 574.98C433.55 573.53 433.7 573.9 433.86 574.1C434.02 574.3 434.18 574.58 434.36 576.23C434.54 577.87 434.72 582.17 434.98 584.37C435.24 586.58 435.56 588.51 435.99 590.01C436.41 591.52 437.05 592.77 437.61 593.77C438.18 594.77 438.79 595.58 439.49 596.28C440.2 596.98 441.1 597.35 442 598.16C442.9 598.96 444.23 600.6 445.13 601.3C446.03 602 446.84 602.75 447.64 602.55C448.44 602.35 449.34 600.69 450.14 600.05C450.95 599.41 451.75 598.7 452.65 598.54C453.55 598.38 454.68 598.6 455.78 599.05C456.89 599.49 458.34 600.64 459.54 601.3C460.75 601.96 462.26 602.52 463.3 603.18C464.34 603.84 464.96 605.5 466.06 605.44C467.16 605.38 468.87 603.61 470.19 602.8C471.52 602 473.02 600.5 474.33 600.42C475.63 600.34 476.89 601.46 478.34 602.3C479.78 603.15 481.65 604.5 483.35 605.69C485.05 606.87 487.38 608.15 488.99 609.7C490.59 611.24 491.87 613.51 493.37 615.33C494.88 617.16 496.58 619.64 498.39 621.1C500.19 622.56 502.45 623.24 504.65 624.48C506.86 625.72 509.76 627.5 512.17 628.87C514.57 630.23 517.28 631.7 519.69 633C522.09 634.31 525.2 635.57 527.2 637.01C529.21 638.46 530.21 640.02 532.22 642.02C534.22 644.03 537.53 647.28 539.73 649.54C541.94 651.81 544.7 654.8 546 656.18C547.3 657.57 547.58 657.87 547.88 658.19" fill="none" stroke="#ff0000" stroke-width="2.8" stroke-linejoin="round" clip-path="url(#c7)"/><circle cx="396.75" cy="614.95" r="3.15" fill="#0000ff"/><circle cx="409.45" cy="596.55" r="3.15" fill="#0000ff"/><circle cx="412.35" cy="590.85" r="3.15" fill="#0000ff"/><circle cx="419.95" cy="583.05" r="3.15" fill="#0000ff"/><circle cx="435.25" cy="556.55" r="3.15" fill="#0000ff"/><circle cx="439.85" cy="554.55" r="3.15" fill="#0000ff"/><circle cx="441.85" cy="558.75" r="3.15" fill="#0000ff"/><circle cx="477.45" cy="562.95" r="3.15" fill="#0000ff"/><circle cx="484.85" cy="565.05" r="3.15" fill="#0000ff"/><circle cx="498.55" cy="570.95" r="3.15" fill="#0000ff"/><path d="M355.25 690.6v-3.4M355.25 533.6v3.4M366.99 690.6v-3.4M366.99 533.6v3.4M376.1 690.6v-3.4M376.1 533.6v3.4M383.55 690.6v-3.4M383.55 533.6v3.4M389.84 690.6v-3.4M389.84 533.6v3.4M395.29 690.6v-3.4M395.29 533.6v3.4M400.1 690.6v-3.4M400.1 533.6v3.4M404.4 690.6v-6.4M404.4 533.6v6.4M432.7 690.6v-3.4M432.7 533.6v3.4M449.25 690.6v-3.4M449.25 533.6v3.4M460.99 690.6v-3.4M460.99 533.6v3.4M470.1 690.6v-3.4M470.1 533.6v3.4M477.55 690.6v-3.4M477.55 533.6v3.4M483.84 690.6v-3.4M483.84 533.6v3.4M489.29 690.6v-3.4M489.29 533.6v3.4M494.1 690.6v-3.4M494.1 533.6v3.4M498.4 690.6v-6.4M498.4 533.6v6.4M526.7 690.6v-3.4M526.7 533.6v3.4M543.25 690.6v-3.4M543.25 533.6v3.4M338.6 681.15h3.4M545.4 681.15h-3.4M338.6 675.62h3.4M545.4 675.62h-3.4M338.6 671.7h3.4M545.4 671.7h-3.4M338.6 668.65h3.4M545.4 668.65h-3.4M338.6 666.17h3.4M545.4 666.17h-3.4M338.6 664.06h3.4M545.4 664.06h-3.4M338.6 662.24h3.4M545.4 662.24h-3.4M338.6 660.64h3.4M545.4 660.64h-3.4M338.6 659.2h6.4M545.4 659.2h-6.4M338.6 649.75h3.4M545.4 649.75h-3.4M338.6 644.22h3.4M545.4 644.22h-3.4M338.6 640.3h3.4M545.4 640.3h-3.4M338.6 637.25h3.4M545.4 637.25h-3.4M338.6 634.77h3.4M545.4 634.77h-3.4M338.6 632.66h3.4M545.4 632.66h-3.4M338.6 630.84h3.4M545.4 630.84h-3.4M338.6 629.24h3.4M545.4 629.24h-3.4M338.6 627.8h6.4M545.4 627.8h-6.4M338.6 618.35h3.4M545.4 618.35h-3.4M338.6 612.82h3.4M545.4 612.82h-3.4M338.6 608.9h3.4M545.4 608.9h-3.4M338.6 605.85h3.4M545.4 605.85h-3.4M338.6 603.37h3.4M545.4 603.37h-3.4M338.6 601.26h3.4M545.4 601.26h-3.4M338.6 599.44h3.4M545.4 599.44h-3.4M338.6 597.84h3.4M545.4 597.84h-3.4M338.6 596.4h6.4M545.4 596.4h-6.4M338.6 586.95h3.4M545.4 586.95h-3.4M338.6 581.42h3.4M545.4 581.42h-3.4M338.6 577.5h3.4M545.4 577.5h-3.4M338.6 574.45h3.4M545.4 574.45h-3.4M338.6 571.97h3.4M545.4 571.97h-3.4M338.6 569.86h3.4M545.4 569.86h-3.4M338.6 568.04h3.4M545.4 568.04h-3.4M338.6 566.44h3.4M545.4 566.44h-3.4M338.6 565h6.4M545.4 565h-6.4M338.6 555.55h3.4M545.4 555.55h-3.4M338.6 550.02h3.4M545.4 550.02h-3.4M338.6 546.1h3.4M545.4 546.1h-3.4M338.6 543.05h3.4M545.4 543.05h-3.4M338.6 540.57h3.4M545.4 540.57h-3.4M338.6 538.46h3.4M545.4 538.46h-3.4M338.6 536.64h3.4M545.4 536.64h-3.4M338.6 535.04h3.4M545.4 535.04h-3.4" stroke="#000" stroke-width="1.25" fill="none"/><rect x="338.6" y="533.6" width="206.8" height="157" fill="none" stroke="#000" stroke-width="1.6"/><text x="303.1" y="695.1" font-size="13.4" textLength="14.9" lengthAdjust="spacingAndGlyphs" fill="#000" stroke="#000" stroke-width="0.5">10</text><text x="319.1" y="688.6" font-size="9.8" textLength="12.2" lengthAdjust="spacingAndGlyphs" fill="#000" stroke="#000" stroke-width="0.5">−2</text><text x="303.1" y="663.7" font-size="13.4" textLength="14.9" lengthAdjust="spacingAndGlyphs" fill="#000" stroke="#000" stroke-width="0.5">10</text><text x="319.1" y="657.2" font-size="9.8" textLength="12.2" lengthAdjust="spacingAndGlyphs" fill="#000" stroke="#000" stroke-width="0.5">−1</text><text x="323" y="632.3" font-size="13.4" textLength="5.2" lengthAdjust="spacingAndGlyphs" fill="#000" stroke="#000" stroke-width="0.5">1</text><text x="310.3" y="600.9" font-size="13.4" textLength="14.9" lengthAdjust="spacingAndGlyphs" fill="#000" stroke="#000" stroke-width="0.5">10</text><text x="326.3" y="594.4" font-size="9.8" textLength="5" lengthAdjust="spacingAndGlyphs" fill="#000" stroke="#000" stroke-width="0.5">1</text><text x="310.3" y="569.5" font-size="13.4" textLength="14.9" lengthAdjust="spacingAndGlyphs" fill="#000" stroke="#000" stroke-width="0.5">10</text><text x="326.3" y="563" font-size="9.8" textLength="5" lengthAdjust="spacingAndGlyphs" fill="#000" stroke="#000" stroke-width="0.5">2</text><text x="310.3" y="538.1" font-size="13.4" textLength="14.9" lengthAdjust="spacingAndGlyphs" fill="#000" stroke="#000" stroke-width="0.5">10</text><text x="326.3" y="531.6" font-size="9.8" textLength="5" lengthAdjust="spacingAndGlyphs" fill="#000" stroke="#000" stroke-width="0.5">3</text><text x="394.8" y="706.6" font-size="13.4" textLength="14.9" lengthAdjust="spacingAndGlyphs" fill="#000" stroke="#000" stroke-width="0.5">10</text><text x="410.8" y="700.1" font-size="9.8" textLength="5" lengthAdjust="spacingAndGlyphs" fill="#000" stroke="#000" stroke-width="0.5">1</text><text x="488.8" y="706.6" font-size="13.4" textLength="14.9" lengthAdjust="spacingAndGlyphs" fill="#000" stroke="#000" stroke-width="0.5">10</text><text x="504.8" y="700.1" font-size="9.8" textLength="5" lengthAdjust="spacingAndGlyphs" fill="#000" stroke="#000" stroke-width="0.5">2</text><text x="408.9" y="527.7" font-size="14" textLength="44.4" lengthAdjust="spacingAndGlyphs" fill="#000" stroke="#000" stroke-width="0.5">t=1600</text><text x="461.8" y="527.7" font-size="14" textLength="13.3" lengthAdjust="spacingAndGlyphs" fill="#000" stroke="#000" stroke-width="0.5">yr</text><text x="422.1" y="731.5" font-size="13.5" textLength="39.6" lengthAdjust="spacingAndGlyphs" fill="#000" stroke="#000" stroke-width="0.5">λ(<tspan font-style="italic">μ</tspan>m)</text><g transform="translate(294.8 611.7) rotate(-90)"><text x="-18.8" y="0" font-size="14.2" textLength="7.6" lengthAdjust="spacingAndGlyphs" fill="#000" stroke="#000" stroke-width="0.5">F</text><text x="-11.3" y="4.6" font-size="10.5" textLength="6.7" lengthAdjust="spacingAndGlyphs" fill="#000" stroke="#000" stroke-width="0.5">λ</text><text x="-4" y="0" font-size="14.2" textLength="23" lengthAdjust="spacingAndGlyphs" fill="#000" stroke="#000" stroke-width="0.5">(Jy)</text></g>
<clipPath id="c8"><rect x="619.95" y="533.3" width="210" height="157.8"/></clipPath><path d="M691.92 691.69C692.3 690.17 693.68 684.96 694.3 682.17C694.92 679.38 695.56 675.54 695.8 674.27M699.56 658.74 L701.44 641.82M702.7 625.16C702.9 623.85 703.69 618.62 703.95 617.01C704.21 615.41 703.86 616.24 704.33 615.13C704.79 614.03 706.43 610.92 706.83 610.12M711.22 623.9C711.52 622.9 712.6 619.84 713.1 617.64C713.6 615.43 714.15 611.32 714.35 610.12M727.76 605.29C728.16 605.29 729.2 606.23 730.26 605.29C731.33 604.34 733.13 600.4 734.4 599.4C735.66 598.4 736.95 598.88 738.16 599.02C739.36 599.16 741.31 600.07 741.92 600.27M756.07 599.4C757.22 599.9 760.93 601.27 763.22 602.53C765.5 603.79 769.22 606.53 770.36 607.29M781.39 619.45 L795.8 628.59M809.2 637.36 L821.23 649.52" fill="none" stroke="#00f400" stroke-width="1.3" clip-path="url(#c8)"/><path d="M648.57 692.19C648.73 692.03 648.77 692.09 649.57 691.19C650.37 690.29 652.13 688.24 653.58 686.55C655.02 684.87 656.79 682.67 658.59 680.67C660.39 678.66 662.85 676.29 664.86 674.02C666.86 671.76 669.42 668.45 671.12 666.51C672.82 664.56 674.5 663.37 675.51 661.87C676.51 660.37 676.84 659.17 677.39 657.11C677.93 655.04 678.45 651.67 678.89 648.96C679.33 646.26 679.78 642.9 680.14 640.19C680.5 637.49 680.88 634.19 681.14 632.05C681.41 629.9 681.59 627.49 681.77 626.79C681.95 626.08 682.11 626.22 682.27 627.66C682.43 629.11 682.59 634.06 682.77 635.81C682.95 637.55 683.06 638.06 683.4 638.56C683.74 639.07 684.36 638.58 684.9 638.94C685.44 639.3 686.18 640.16 686.78 640.82C687.38 641.48 688.06 642.51 688.66 643.07C689.26 643.64 689.94 644.29 690.54 644.33C691.14 644.37 691.92 643.99 692.42 643.33C692.92 642.66 693.31 641.3 693.67 640.19C694.04 639.09 694.32 637.28 694.68 636.43C695.04 635.59 695.45 635.13 695.93 634.93C696.41 634.73 697.14 635.28 697.68 635.18C698.23 635.08 698.85 635.05 699.31 634.3C699.77 633.56 700.11 633.21 700.57 630.54C701.03 627.88 701.73 621.11 702.2 617.64C702.66 614.17 703.01 611.07 703.45 608.87C703.89 606.66 704.41 604.96 704.95 603.86C705.49 602.75 706.27 602.08 706.83 601.98C707.39 601.88 708 602.13 708.46 603.23C708.92 604.33 709.31 607.06 709.71 608.87C710.11 610.67 710.63 613.5 710.97 614.51C711.31 615.51 711.5 615.73 711.84 615.13C712.18 614.53 712.7 612.95 713.1 610.75C713.5 608.54 713.99 604.46 714.35 601.35C714.71 598.24 715.05 594.03 715.35 591.33C715.65 588.62 715.99 585.6 716.23 584.43C716.47 583.27 716.67 583.66 716.86 584.06C717.04 584.46 717.18 585.18 717.36 586.94C717.54 588.7 717.72 592.98 717.98 595.08C718.24 597.19 718.56 598.69 718.99 600.1C719.41 601.5 720.05 602.89 720.61 603.86C721.18 604.82 721.79 605.51 722.49 606.11C723.2 606.71 724.1 607.14 725 607.61C725.9 608.08 727.29 608.7 728.13 609.05C728.97 609.4 729.56 610.04 730.26 609.8C730.96 609.56 731.76 608.4 732.52 607.54C733.28 606.68 734.12 604.81 735.02 604.41C735.93 604.01 737.05 604.53 738.16 605.04C739.26 605.54 740.71 606.84 741.92 607.54C743.12 608.24 744.57 608.72 745.67 609.42C746.78 610.12 747.6 612.03 748.81 611.93C750.01 611.83 751.83 609.74 753.19 608.8C754.56 607.85 756.02 606.14 757.33 606.04C758.63 605.94 759.89 607.33 761.34 608.17C762.78 609.01 764.65 610.14 766.35 611.3C768.05 612.46 770.38 613.73 771.99 615.44C773.59 617.14 774.87 619.97 776.37 621.95C777.88 623.94 779.58 626.44 781.39 627.84C783.19 629.24 785.45 629.7 787.65 630.72C789.86 631.75 792.76 633.07 795.17 634.23C797.57 635.39 800.38 636.79 802.69 637.99C804.99 639.19 807.57 640.31 809.58 641.75C811.58 643.19 813.11 644.87 815.22 647.01C817.32 649.16 820.53 652.85 822.73 655.16C824.94 657.46 827.7 660.1 829 661.42C830.3 662.74 830.58 663.11 830.88 663.43" fill="none" stroke="#ff0000" stroke-width="2.8" stroke-linejoin="round" clip-path="url(#c8)"/><circle cx="679.7" cy="614.95" r="3.15" fill="#0000ff"/><circle cx="692.4" cy="596.55" r="3.15" fill="#0000ff"/><circle cx="695.3" cy="590.85" r="3.15" fill="#0000ff"/><circle cx="702.9" cy="583.05" r="3.15" fill="#0000ff"/><circle cx="718.2" cy="556.55" r="3.15" fill="#0000ff"/><circle cx="722.8" cy="554.55" r="3.15" fill="#0000ff"/><circle cx="724.8" cy="558.75" r="3.15" fill="#0000ff"/><circle cx="760.4" cy="562.95" r="3.15" fill="#0000ff"/><circle cx="767.8" cy="565.05" r="3.15" fill="#0000ff"/><circle cx="781.5" cy="570.95" r="3.15" fill="#0000ff"/><path d="M638.2 690.6v-3.4M638.2 533.6v3.4M649.94 690.6v-3.4M649.94 533.6v3.4M659.05 690.6v-3.4M659.05 533.6v3.4M666.5 690.6v-3.4M666.5 533.6v3.4M672.79 690.6v-3.4M672.79 533.6v3.4M678.24 690.6v-3.4M678.24 533.6v3.4M683.05 690.6v-3.4M683.05 533.6v3.4M687.35 690.6v-6.4M687.35 533.6v6.4M715.65 690.6v-3.4M715.65 533.6v3.4M732.2 690.6v-3.4M732.2 533.6v3.4M743.94 690.6v-3.4M743.94 533.6v3.4M753.05 690.6v-3.4M753.05 533.6v3.4M760.5 690.6v-3.4M760.5 533.6v3.4M766.79 690.6v-3.4M766.79 533.6v3.4M772.24 690.6v-3.4M772.24 533.6v3.4M777.05 690.6v-3.4M777.05 533.6v3.4M781.35 690.6v-6.4M781.35 533.6v6.4M809.65 690.6v-3.4M809.65 533.6v3.4M826.2 690.6v-3.4M826.2 533.6v3.4M621.55 681.15h3.4M828.35 681.15h-3.4M621.55 675.62h3.4M828.35 675.62h-3.4M621.55 671.7h3.4M828.35 671.7h-3.4M621.55 668.65h3.4M828.35 668.65h-3.4M621.55 666.17h3.4M828.35 666.17h-3.4M621.55 664.06h3.4M828.35 664.06h-3.4M621.55 662.24h3.4M828.35 662.24h-3.4M621.55 660.64h3.4M828.35 660.64h-3.4M621.55 659.2h6.4M828.35 659.2h-6.4M621.55 649.75h3.4M828.35 649.75h-3.4M621.55 644.22h3.4M828.35 644.22h-3.4M621.55 640.3h3.4M828.35 640.3h-3.4M621.55 637.25h3.4M828.35 637.25h-3.4M621.55 634.77h3.4M828.35 634.77h-3.4M621.55 632.66h3.4M828.35 632.66h-3.4M621.55 630.84h3.4M828.35 630.84h-3.4M621.55 629.24h3.4M828.35 629.24h-3.4M621.55 627.8h6.4M828.35 627.8h-6.4M621.55 618.35h3.4M828.35 618.35h-3.4M621.55 612.82h3.4M828.35 612.82h-3.4M621.55 608.9h3.4M828.35 608.9h-3.4M621.55 605.85h3.4M828.35 605.85h-3.4M621.55 603.37h3.4M828.35 603.37h-3.4M621.55 601.26h3.4M828.35 601.26h-3.4M621.55 599.44h3.4M828.35 599.44h-3.4M621.55 597.84h3.4M828.35 597.84h-3.4M621.55 596.4h6.4M828.35 596.4h-6.4M621.55 586.95h3.4M828.35 586.95h-3.4M621.55 581.42h3.4M828.35 581.42h-3.4M621.55 577.5h3.4M828.35 577.5h-3.4M621.55 574.45h3.4M828.35 574.45h-3.4M621.55 571.97h3.4M828.35 571.97h-3.4M621.55 569.86h3.4M828.35 569.86h-3.4M621.55 568.04h3.4M828.35 568.04h-3.4M621.55 566.44h3.4M828.35 566.44h-3.4M621.55 565h6.4M828.35 565h-6.4M621.55 555.55h3.4M828.35 555.55h-3.4M621.55 550.02h3.4M828.35 550.02h-3.4M621.55 546.1h3.4M828.35 546.1h-3.4M621.55 543.05h3.4M828.35 543.05h-3.4M621.55 540.57h3.4M828.35 540.57h-3.4M621.55 538.46h3.4M828.35 538.46h-3.4M621.55 536.64h3.4M828.35 536.64h-3.4M621.55 535.04h3.4M828.35 535.04h-3.4" stroke="#000" stroke-width="1.25" fill="none"/><rect x="621.55" y="533.6" width="206.8" height="157" fill="none" stroke="#000" stroke-width="1.6"/><text x="586.05" y="695.1" font-size="13.4" textLength="14.9" lengthAdjust="spacingAndGlyphs" fill="#000" stroke="#000" stroke-width="0.5">10</text><text x="602.05" y="688.6" font-size="9.8" textLength="12.2" lengthAdjust="spacingAndGlyphs" fill="#000" stroke="#000" stroke-width="0.5">−2</text><text x="586.05" y="663.7" font-size="13.4" textLength="14.9" lengthAdjust="spacingAndGlyphs" fill="#000" stroke="#000" stroke-width="0.5">10</text><text x="602.05" y="657.2" font-size="9.8" textLength="12.2" lengthAdjust="spacingAndGlyphs" fill="#000" stroke="#000" stroke-width="0.5">−1</text><text x="605.95" y="632.3" font-size="13.4" textLength="5.2" lengthAdjust="spacingAndGlyphs" fill="#000" stroke="#000" stroke-width="0.5">1</text><text x="593.25" y="600.9" font-size="13.4" textLength="14.9" lengthAdjust="spacingAndGlyphs" fill="#000" stroke="#000" stroke-width="0.5">10</text><text x="609.25" y="594.4" font-size="9.8" textLength="5" lengthAdjust="spacingAndGlyphs" fill="#000" stroke="#000" stroke-width="0.5">1</text><text x="593.25" y="569.5" font-size="13.4" textLength="14.9" lengthAdjust="spacingAndGlyphs" fill="#000" stroke="#000" stroke-width="0.5">10</text><text x="609.25" y="563" font-size="9.8" textLength="5" lengthAdjust="spacingAndGlyphs" fill="#000" stroke="#000" stroke-width="0.5">2</text><text x="593.25" y="538.1" font-size="13.4" textLength="14.9" lengthAdjust="spacingAndGlyphs" fill="#000" stroke="#000" stroke-width="0.5">10</text><text x="609.25" y="531.6" font-size="9.8" textLength="5" lengthAdjust="spacingAndGlyphs" fill="#000" stroke="#000" stroke-width="0.5">3</text><text x="677.75" y="706.6" font-size="13.4" textLength="14.9" lengthAdjust="spacingAndGlyphs" fill="#000" stroke="#000" stroke-width="0.5">10</text><text x="693.75" y="700.1" font-size="9.8" textLength="5" lengthAdjust="spacingAndGlyphs" fill="#000" stroke="#000" stroke-width="0.5">1</text><text x="771.75" y="706.6" font-size="13.4" textLength="14.9" lengthAdjust="spacingAndGlyphs" fill="#000" stroke="#000" stroke-width="0.5">10</text><text x="787.75" y="700.1" font-size="9.8" textLength="5" lengthAdjust="spacingAndGlyphs" fill="#000" stroke="#000" stroke-width="0.5">2</text><text x="691.85" y="527.7" font-size="14" textLength="44.4" lengthAdjust="spacingAndGlyphs" fill="#000" stroke="#000" stroke-width="0.5">t=1800</text><text x="744.75" y="527.7" font-size="14" textLength="13.3" lengthAdjust="spacingAndGlyphs" fill="#000" stroke="#000" stroke-width="0.5">yr</text><text x="705.05" y="731.5" font-size="13.5" textLength="39.6" lengthAdjust="spacingAndGlyphs" fill="#000" stroke="#000" stroke-width="0.5">λ(<tspan font-style="italic">μ</tspan>m)</text><g transform="translate(577.75 611.7) rotate(-90)"><text x="-18.8" y="0" font-size="14.2" textLength="7.6" lengthAdjust="spacingAndGlyphs" fill="#000" stroke="#000" stroke-width="0.5">F</text><text x="-11.3" y="4.6" font-size="10.5" textLength="6.7" lengthAdjust="spacingAndGlyphs" fill="#000" stroke="#000" stroke-width="0.5">λ</text><text x="-4" y="0" font-size="14.2" textLength="23" lengthAdjust="spacingAndGlyphs" fill="#000" stroke="#000" stroke-width="0.5">(Jy)</text></g>
</svg></body></html>
